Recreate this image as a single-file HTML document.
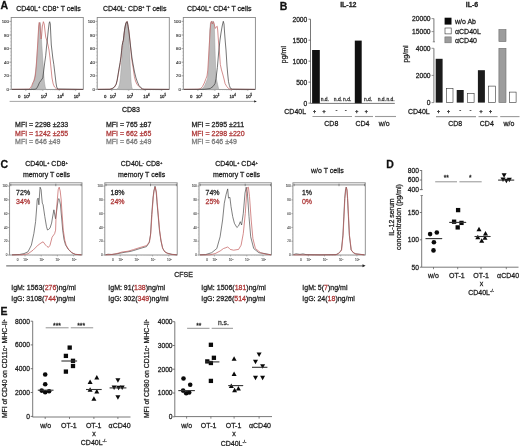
<!DOCTYPE html>
<html><head><meta charset="utf-8"><style>
html,body{margin:0;padding:0;background:#fff;}
body{width:520px;height:446px;overflow:hidden;}
svg{display:block;font-family:"Liberation Sans", sans-serif;filter:blur(0.3px);}
text{stroke:currentColor;stroke-width:0.26px;}
</style></head><body>
<svg width="520" height="446" viewBox="0 0 520 446">
<rect width="520" height="446" fill="#fff"/>
<text x="0.6" y="9.3" font-size="10.5" text-anchor="start" fill="#111" color="#111" font-weight="bold">A</text>
<text x="279.8" y="10.2" font-size="10.5" text-anchor="start" fill="#111" color="#111" font-weight="bold">B</text>
<text x="0.6" y="168" font-size="10.5" text-anchor="start" fill="#111" color="#111" font-weight="bold">C</text>
<text x="386.3" y="168.4" font-size="10.5" text-anchor="start" fill="#111" color="#111" font-weight="bold">D</text>
<text x="0.4" y="315.2" font-size="10.5" text-anchor="start" fill="#111" color="#111" font-weight="bold">E</text>
<text x="16.2" y="11.2" font-size="7" text-anchor="start" fill="#1c1c1c" color="#1c1c1c">CD40L<tspan font-size="4.2" dy="-2.8">+</tspan><tspan font-size="7" dy="2.8"> CD8<tspan font-size="4.2" dy="-2.8">+</tspan><tspan font-size="7" dy="2.8"> T cells</tspan></tspan></text>
<text x="102.9" y="11.2" font-size="7" text-anchor="start" fill="#1c1c1c" color="#1c1c1c">CD40L<tspan font-size="4.2" dy="-2.8">-</tspan><tspan font-size="7" dy="2.8"> CD8<tspan font-size="4.2" dy="-2.8">+</tspan><tspan font-size="7" dy="2.8"> T cells</tspan></tspan></text>
<text x="187" y="11.2" font-size="7" text-anchor="start" fill="#1c1c1c" color="#1c1c1c">CD40L<tspan font-size="4.2" dy="-2.8">+</tspan><tspan font-size="7" dy="2.8"> CD4<tspan font-size="4.2" dy="-2.8">+</tspan><tspan font-size="7" dy="2.8"> T cells</tspan></tspan></text>
<rect x="11.2" y="17.5" width="72.1" height="71.9" fill="white" stroke="#888" stroke-width="0.9"/>
<line x1="9.4" y1="21.4" x2="11.2" y2="21.4" stroke="#777" stroke-width="0.6"/>
<text x="8.8" y="22.95" font-size="4.3" text-anchor="end" fill="#2a2a2a" color="#2a2a2a" style="stroke-width:0.1px">100</text>
<line x1="9.4" y1="35" x2="11.2" y2="35" stroke="#777" stroke-width="0.6"/>
<text x="8.8" y="36.55" font-size="4.3" text-anchor="end" fill="#2a2a2a" color="#2a2a2a" style="stroke-width:0.1px">80</text>
<line x1="9.4" y1="48.6" x2="11.2" y2="48.6" stroke="#777" stroke-width="0.6"/>
<text x="8.8" y="50.15" font-size="4.3" text-anchor="end" fill="#2a2a2a" color="#2a2a2a" style="stroke-width:0.1px">60</text>
<line x1="9.4" y1="62.2" x2="11.2" y2="62.2" stroke="#777" stroke-width="0.6"/>
<text x="8.8" y="63.75" font-size="4.3" text-anchor="end" fill="#2a2a2a" color="#2a2a2a" style="stroke-width:0.1px">40</text>
<line x1="9.4" y1="75.8" x2="11.2" y2="75.8" stroke="#777" stroke-width="0.6"/>
<text x="8.8" y="77.35" font-size="4.3" text-anchor="end" fill="#2a2a2a" color="#2a2a2a" style="stroke-width:0.1px">20</text>
<line x1="9.4" y1="89.4" x2="11.2" y2="89.4" stroke="#777" stroke-width="0.6"/>
<text x="8.8" y="90.95" font-size="4.3" text-anchor="end" fill="#2a2a2a" color="#2a2a2a" style="stroke-width:0.1px">0</text>
<line x1="10.2" y1="21.4" x2="11.2" y2="21.4" stroke="#999" stroke-width="0.4"/>
<line x1="10.2" y1="24.8" x2="11.2" y2="24.8" stroke="#999" stroke-width="0.4"/>
<line x1="10.2" y1="28.2" x2="11.2" y2="28.2" stroke="#999" stroke-width="0.4"/>
<line x1="10.2" y1="31.6" x2="11.2" y2="31.6" stroke="#999" stroke-width="0.4"/>
<line x1="10.2" y1="35" x2="11.2" y2="35" stroke="#999" stroke-width="0.4"/>
<line x1="10.2" y1="38.4" x2="11.2" y2="38.4" stroke="#999" stroke-width="0.4"/>
<line x1="10.2" y1="41.8" x2="11.2" y2="41.8" stroke="#999" stroke-width="0.4"/>
<line x1="10.2" y1="45.2" x2="11.2" y2="45.2" stroke="#999" stroke-width="0.4"/>
<line x1="10.2" y1="48.6" x2="11.2" y2="48.6" stroke="#999" stroke-width="0.4"/>
<line x1="10.2" y1="52" x2="11.2" y2="52" stroke="#999" stroke-width="0.4"/>
<line x1="10.2" y1="55.4" x2="11.2" y2="55.4" stroke="#999" stroke-width="0.4"/>
<line x1="10.2" y1="58.8" x2="11.2" y2="58.8" stroke="#999" stroke-width="0.4"/>
<line x1="10.2" y1="62.2" x2="11.2" y2="62.2" stroke="#999" stroke-width="0.4"/>
<line x1="10.2" y1="65.6" x2="11.2" y2="65.6" stroke="#999" stroke-width="0.4"/>
<line x1="10.2" y1="69" x2="11.2" y2="69" stroke="#999" stroke-width="0.4"/>
<line x1="10.2" y1="72.4" x2="11.2" y2="72.4" stroke="#999" stroke-width="0.4"/>
<line x1="10.2" y1="75.8" x2="11.2" y2="75.8" stroke="#999" stroke-width="0.4"/>
<line x1="10.2" y1="79.2" x2="11.2" y2="79.2" stroke="#999" stroke-width="0.4"/>
<line x1="10.2" y1="82.6" x2="11.2" y2="82.6" stroke="#999" stroke-width="0.4"/>
<line x1="10.2" y1="86" x2="11.2" y2="86" stroke="#999" stroke-width="0.4"/>
<line x1="10.2" y1="89.4" x2="11.2" y2="89.4" stroke="#999" stroke-width="0.4"/>
<text x="19.1" y="97.6" font-size="4.3" text-anchor="middle" fill="#333" color="#333">0</text>
<text x="27" y="97.6" font-size="4.3" text-anchor="middle" fill="#333" color="#333">10<tspan font-size="2.79" dy="-1.94">2</tspan></text>
<line x1="25.8" y1="89.4" x2="25.8" y2="91" stroke="#777" stroke-width="0.5"/>
<text x="44" y="97.6" font-size="4.3" text-anchor="middle" fill="#333" color="#333">10<tspan font-size="2.79" dy="-1.94">3</tspan></text>
<line x1="42.8" y1="89.4" x2="42.8" y2="91" stroke="#777" stroke-width="0.5"/>
<text x="60.5" y="97.6" font-size="4.3" text-anchor="middle" fill="#333" color="#333">10<tspan font-size="2.79" dy="-1.94">4</tspan></text>
<line x1="59.3" y1="89.4" x2="59.3" y2="91" stroke="#777" stroke-width="0.5"/>
<text x="76.9" y="97.6" font-size="4.3" text-anchor="middle" fill="#333" color="#333">10<tspan font-size="2.79" dy="-1.94">5</tspan></text>
<line x1="75.7" y1="89.4" x2="75.7" y2="91" stroke="#777" stroke-width="0.5"/>
<line x1="30.92" y1="89.4" x2="30.92" y2="90.3" stroke="#999" stroke-width="0.4"/>
<line x1="33.91" y1="89.4" x2="33.91" y2="90.3" stroke="#999" stroke-width="0.4"/>
<line x1="36.04" y1="89.4" x2="36.04" y2="90.3" stroke="#999" stroke-width="0.4"/>
<line x1="37.68" y1="89.4" x2="37.68" y2="90.3" stroke="#999" stroke-width="0.4"/>
<line x1="39.03" y1="89.4" x2="39.03" y2="90.3" stroke="#999" stroke-width="0.4"/>
<line x1="40.17" y1="89.4" x2="40.17" y2="90.3" stroke="#999" stroke-width="0.4"/>
<line x1="41.15" y1="89.4" x2="41.15" y2="90.3" stroke="#999" stroke-width="0.4"/>
<line x1="42.02" y1="89.4" x2="42.02" y2="90.3" stroke="#999" stroke-width="0.4"/>
<line x1="47.77" y1="89.4" x2="47.77" y2="90.3" stroke="#999" stroke-width="0.4"/>
<line x1="50.67" y1="89.4" x2="50.67" y2="90.3" stroke="#999" stroke-width="0.4"/>
<line x1="52.73" y1="89.4" x2="52.73" y2="90.3" stroke="#999" stroke-width="0.4"/>
<line x1="54.33" y1="89.4" x2="54.33" y2="90.3" stroke="#999" stroke-width="0.4"/>
<line x1="55.64" y1="89.4" x2="55.64" y2="90.3" stroke="#999" stroke-width="0.4"/>
<line x1="56.74" y1="89.4" x2="56.74" y2="90.3" stroke="#999" stroke-width="0.4"/>
<line x1="57.7" y1="89.4" x2="57.7" y2="90.3" stroke="#999" stroke-width="0.4"/>
<line x1="58.55" y1="89.4" x2="58.55" y2="90.3" stroke="#999" stroke-width="0.4"/>
<line x1="64.24" y1="89.4" x2="64.24" y2="90.3" stroke="#999" stroke-width="0.4"/>
<line x1="67.12" y1="89.4" x2="67.12" y2="90.3" stroke="#999" stroke-width="0.4"/>
<line x1="69.17" y1="89.4" x2="69.17" y2="90.3" stroke="#999" stroke-width="0.4"/>
<line x1="70.76" y1="89.4" x2="70.76" y2="90.3" stroke="#999" stroke-width="0.4"/>
<line x1="72.06" y1="89.4" x2="72.06" y2="90.3" stroke="#999" stroke-width="0.4"/>
<line x1="73.16" y1="89.4" x2="73.16" y2="90.3" stroke="#999" stroke-width="0.4"/>
<line x1="74.11" y1="89.4" x2="74.11" y2="90.3" stroke="#999" stroke-width="0.4"/>
<line x1="74.95" y1="89.4" x2="74.95" y2="90.3" stroke="#999" stroke-width="0.4"/>
<rect x="97.2" y="17.5" width="72.1" height="71.9" fill="white" stroke="#888" stroke-width="0.9"/>
<line x1="95.4" y1="21.4" x2="97.2" y2="21.4" stroke="#777" stroke-width="0.6"/>
<text x="94.8" y="22.95" font-size="4.3" text-anchor="end" fill="#2a2a2a" color="#2a2a2a" style="stroke-width:0.1px">100</text>
<line x1="95.4" y1="35" x2="97.2" y2="35" stroke="#777" stroke-width="0.6"/>
<text x="94.8" y="36.55" font-size="4.3" text-anchor="end" fill="#2a2a2a" color="#2a2a2a" style="stroke-width:0.1px">80</text>
<line x1="95.4" y1="48.6" x2="97.2" y2="48.6" stroke="#777" stroke-width="0.6"/>
<text x="94.8" y="50.15" font-size="4.3" text-anchor="end" fill="#2a2a2a" color="#2a2a2a" style="stroke-width:0.1px">60</text>
<line x1="95.4" y1="62.2" x2="97.2" y2="62.2" stroke="#777" stroke-width="0.6"/>
<text x="94.8" y="63.75" font-size="4.3" text-anchor="end" fill="#2a2a2a" color="#2a2a2a" style="stroke-width:0.1px">40</text>
<line x1="95.4" y1="75.8" x2="97.2" y2="75.8" stroke="#777" stroke-width="0.6"/>
<text x="94.8" y="77.35" font-size="4.3" text-anchor="end" fill="#2a2a2a" color="#2a2a2a" style="stroke-width:0.1px">20</text>
<line x1="95.4" y1="89.4" x2="97.2" y2="89.4" stroke="#777" stroke-width="0.6"/>
<text x="94.8" y="90.95" font-size="4.3" text-anchor="end" fill="#2a2a2a" color="#2a2a2a" style="stroke-width:0.1px">0</text>
<line x1="96.2" y1="21.4" x2="97.2" y2="21.4" stroke="#999" stroke-width="0.4"/>
<line x1="96.2" y1="24.8" x2="97.2" y2="24.8" stroke="#999" stroke-width="0.4"/>
<line x1="96.2" y1="28.2" x2="97.2" y2="28.2" stroke="#999" stroke-width="0.4"/>
<line x1="96.2" y1="31.6" x2="97.2" y2="31.6" stroke="#999" stroke-width="0.4"/>
<line x1="96.2" y1="35" x2="97.2" y2="35" stroke="#999" stroke-width="0.4"/>
<line x1="96.2" y1="38.4" x2="97.2" y2="38.4" stroke="#999" stroke-width="0.4"/>
<line x1="96.2" y1="41.8" x2="97.2" y2="41.8" stroke="#999" stroke-width="0.4"/>
<line x1="96.2" y1="45.2" x2="97.2" y2="45.2" stroke="#999" stroke-width="0.4"/>
<line x1="96.2" y1="48.6" x2="97.2" y2="48.6" stroke="#999" stroke-width="0.4"/>
<line x1="96.2" y1="52" x2="97.2" y2="52" stroke="#999" stroke-width="0.4"/>
<line x1="96.2" y1="55.4" x2="97.2" y2="55.4" stroke="#999" stroke-width="0.4"/>
<line x1="96.2" y1="58.8" x2="97.2" y2="58.8" stroke="#999" stroke-width="0.4"/>
<line x1="96.2" y1="62.2" x2="97.2" y2="62.2" stroke="#999" stroke-width="0.4"/>
<line x1="96.2" y1="65.6" x2="97.2" y2="65.6" stroke="#999" stroke-width="0.4"/>
<line x1="96.2" y1="69" x2="97.2" y2="69" stroke="#999" stroke-width="0.4"/>
<line x1="96.2" y1="72.4" x2="97.2" y2="72.4" stroke="#999" stroke-width="0.4"/>
<line x1="96.2" y1="75.8" x2="97.2" y2="75.8" stroke="#999" stroke-width="0.4"/>
<line x1="96.2" y1="79.2" x2="97.2" y2="79.2" stroke="#999" stroke-width="0.4"/>
<line x1="96.2" y1="82.6" x2="97.2" y2="82.6" stroke="#999" stroke-width="0.4"/>
<line x1="96.2" y1="86" x2="97.2" y2="86" stroke="#999" stroke-width="0.4"/>
<line x1="96.2" y1="89.4" x2="97.2" y2="89.4" stroke="#999" stroke-width="0.4"/>
<text x="105.1" y="97.6" font-size="4.3" text-anchor="middle" fill="#333" color="#333">0</text>
<text x="113" y="97.6" font-size="4.3" text-anchor="middle" fill="#333" color="#333">10<tspan font-size="2.79" dy="-1.94">2</tspan></text>
<line x1="111.8" y1="89.4" x2="111.8" y2="91" stroke="#777" stroke-width="0.5"/>
<text x="130" y="97.6" font-size="4.3" text-anchor="middle" fill="#333" color="#333">10<tspan font-size="2.79" dy="-1.94">3</tspan></text>
<line x1="128.8" y1="89.4" x2="128.8" y2="91" stroke="#777" stroke-width="0.5"/>
<text x="146.5" y="97.6" font-size="4.3" text-anchor="middle" fill="#333" color="#333">10<tspan font-size="2.79" dy="-1.94">4</tspan></text>
<line x1="145.3" y1="89.4" x2="145.3" y2="91" stroke="#777" stroke-width="0.5"/>
<text x="162.9" y="97.6" font-size="4.3" text-anchor="middle" fill="#333" color="#333">10<tspan font-size="2.79" dy="-1.94">5</tspan></text>
<line x1="161.7" y1="89.4" x2="161.7" y2="91" stroke="#777" stroke-width="0.5"/>
<line x1="116.92" y1="89.4" x2="116.92" y2="90.3" stroke="#999" stroke-width="0.4"/>
<line x1="119.91" y1="89.4" x2="119.91" y2="90.3" stroke="#999" stroke-width="0.4"/>
<line x1="122.04" y1="89.4" x2="122.04" y2="90.3" stroke="#999" stroke-width="0.4"/>
<line x1="123.68" y1="89.4" x2="123.68" y2="90.3" stroke="#999" stroke-width="0.4"/>
<line x1="125.03" y1="89.4" x2="125.03" y2="90.3" stroke="#999" stroke-width="0.4"/>
<line x1="126.17" y1="89.4" x2="126.17" y2="90.3" stroke="#999" stroke-width="0.4"/>
<line x1="127.15" y1="89.4" x2="127.15" y2="90.3" stroke="#999" stroke-width="0.4"/>
<line x1="128.02" y1="89.4" x2="128.02" y2="90.3" stroke="#999" stroke-width="0.4"/>
<line x1="133.77" y1="89.4" x2="133.77" y2="90.3" stroke="#999" stroke-width="0.4"/>
<line x1="136.67" y1="89.4" x2="136.67" y2="90.3" stroke="#999" stroke-width="0.4"/>
<line x1="138.73" y1="89.4" x2="138.73" y2="90.3" stroke="#999" stroke-width="0.4"/>
<line x1="140.33" y1="89.4" x2="140.33" y2="90.3" stroke="#999" stroke-width="0.4"/>
<line x1="141.64" y1="89.4" x2="141.64" y2="90.3" stroke="#999" stroke-width="0.4"/>
<line x1="142.74" y1="89.4" x2="142.74" y2="90.3" stroke="#999" stroke-width="0.4"/>
<line x1="143.7" y1="89.4" x2="143.7" y2="90.3" stroke="#999" stroke-width="0.4"/>
<line x1="144.55" y1="89.4" x2="144.55" y2="90.3" stroke="#999" stroke-width="0.4"/>
<line x1="150.24" y1="89.4" x2="150.24" y2="90.3" stroke="#999" stroke-width="0.4"/>
<line x1="153.12" y1="89.4" x2="153.12" y2="90.3" stroke="#999" stroke-width="0.4"/>
<line x1="155.17" y1="89.4" x2="155.17" y2="90.3" stroke="#999" stroke-width="0.4"/>
<line x1="156.76" y1="89.4" x2="156.76" y2="90.3" stroke="#999" stroke-width="0.4"/>
<line x1="158.06" y1="89.4" x2="158.06" y2="90.3" stroke="#999" stroke-width="0.4"/>
<line x1="159.16" y1="89.4" x2="159.16" y2="90.3" stroke="#999" stroke-width="0.4"/>
<line x1="160.11" y1="89.4" x2="160.11" y2="90.3" stroke="#999" stroke-width="0.4"/>
<line x1="160.95" y1="89.4" x2="160.95" y2="90.3" stroke="#999" stroke-width="0.4"/>
<rect x="183.3" y="17.5" width="72.1" height="71.9" fill="white" stroke="#888" stroke-width="0.9"/>
<line x1="181.5" y1="21.4" x2="183.3" y2="21.4" stroke="#777" stroke-width="0.6"/>
<text x="180.9" y="22.95" font-size="4.3" text-anchor="end" fill="#2a2a2a" color="#2a2a2a" style="stroke-width:0.1px">100</text>
<line x1="181.5" y1="35" x2="183.3" y2="35" stroke="#777" stroke-width="0.6"/>
<text x="180.9" y="36.55" font-size="4.3" text-anchor="end" fill="#2a2a2a" color="#2a2a2a" style="stroke-width:0.1px">80</text>
<line x1="181.5" y1="48.6" x2="183.3" y2="48.6" stroke="#777" stroke-width="0.6"/>
<text x="180.9" y="50.15" font-size="4.3" text-anchor="end" fill="#2a2a2a" color="#2a2a2a" style="stroke-width:0.1px">60</text>
<line x1="181.5" y1="62.2" x2="183.3" y2="62.2" stroke="#777" stroke-width="0.6"/>
<text x="180.9" y="63.75" font-size="4.3" text-anchor="end" fill="#2a2a2a" color="#2a2a2a" style="stroke-width:0.1px">40</text>
<line x1="181.5" y1="75.8" x2="183.3" y2="75.8" stroke="#777" stroke-width="0.6"/>
<text x="180.9" y="77.35" font-size="4.3" text-anchor="end" fill="#2a2a2a" color="#2a2a2a" style="stroke-width:0.1px">20</text>
<line x1="181.5" y1="89.4" x2="183.3" y2="89.4" stroke="#777" stroke-width="0.6"/>
<text x="180.9" y="90.95" font-size="4.3" text-anchor="end" fill="#2a2a2a" color="#2a2a2a" style="stroke-width:0.1px">0</text>
<line x1="182.3" y1="21.4" x2="183.3" y2="21.4" stroke="#999" stroke-width="0.4"/>
<line x1="182.3" y1="24.8" x2="183.3" y2="24.8" stroke="#999" stroke-width="0.4"/>
<line x1="182.3" y1="28.2" x2="183.3" y2="28.2" stroke="#999" stroke-width="0.4"/>
<line x1="182.3" y1="31.6" x2="183.3" y2="31.6" stroke="#999" stroke-width="0.4"/>
<line x1="182.3" y1="35" x2="183.3" y2="35" stroke="#999" stroke-width="0.4"/>
<line x1="182.3" y1="38.4" x2="183.3" y2="38.4" stroke="#999" stroke-width="0.4"/>
<line x1="182.3" y1="41.8" x2="183.3" y2="41.8" stroke="#999" stroke-width="0.4"/>
<line x1="182.3" y1="45.2" x2="183.3" y2="45.2" stroke="#999" stroke-width="0.4"/>
<line x1="182.3" y1="48.6" x2="183.3" y2="48.6" stroke="#999" stroke-width="0.4"/>
<line x1="182.3" y1="52" x2="183.3" y2="52" stroke="#999" stroke-width="0.4"/>
<line x1="182.3" y1="55.4" x2="183.3" y2="55.4" stroke="#999" stroke-width="0.4"/>
<line x1="182.3" y1="58.8" x2="183.3" y2="58.8" stroke="#999" stroke-width="0.4"/>
<line x1="182.3" y1="62.2" x2="183.3" y2="62.2" stroke="#999" stroke-width="0.4"/>
<line x1="182.3" y1="65.6" x2="183.3" y2="65.6" stroke="#999" stroke-width="0.4"/>
<line x1="182.3" y1="69" x2="183.3" y2="69" stroke="#999" stroke-width="0.4"/>
<line x1="182.3" y1="72.4" x2="183.3" y2="72.4" stroke="#999" stroke-width="0.4"/>
<line x1="182.3" y1="75.8" x2="183.3" y2="75.8" stroke="#999" stroke-width="0.4"/>
<line x1="182.3" y1="79.2" x2="183.3" y2="79.2" stroke="#999" stroke-width="0.4"/>
<line x1="182.3" y1="82.6" x2="183.3" y2="82.6" stroke="#999" stroke-width="0.4"/>
<line x1="182.3" y1="86" x2="183.3" y2="86" stroke="#999" stroke-width="0.4"/>
<line x1="182.3" y1="89.4" x2="183.3" y2="89.4" stroke="#999" stroke-width="0.4"/>
<text x="191.2" y="97.6" font-size="4.3" text-anchor="middle" fill="#333" color="#333">0</text>
<text x="199.1" y="97.6" font-size="4.3" text-anchor="middle" fill="#333" color="#333">10<tspan font-size="2.79" dy="-1.94">2</tspan></text>
<line x1="197.9" y1="89.4" x2="197.9" y2="91" stroke="#777" stroke-width="0.5"/>
<text x="216.1" y="97.6" font-size="4.3" text-anchor="middle" fill="#333" color="#333">10<tspan font-size="2.79" dy="-1.94">3</tspan></text>
<line x1="214.9" y1="89.4" x2="214.9" y2="91" stroke="#777" stroke-width="0.5"/>
<text x="232.6" y="97.6" font-size="4.3" text-anchor="middle" fill="#333" color="#333">10<tspan font-size="2.79" dy="-1.94">4</tspan></text>
<line x1="231.4" y1="89.4" x2="231.4" y2="91" stroke="#777" stroke-width="0.5"/>
<text x="249" y="97.6" font-size="4.3" text-anchor="middle" fill="#333" color="#333">10<tspan font-size="2.79" dy="-1.94">5</tspan></text>
<line x1="247.8" y1="89.4" x2="247.8" y2="91" stroke="#777" stroke-width="0.5"/>
<line x1="203.02" y1="89.4" x2="203.02" y2="90.3" stroke="#999" stroke-width="0.4"/>
<line x1="206.01" y1="89.4" x2="206.01" y2="90.3" stroke="#999" stroke-width="0.4"/>
<line x1="208.14" y1="89.4" x2="208.14" y2="90.3" stroke="#999" stroke-width="0.4"/>
<line x1="209.78" y1="89.4" x2="209.78" y2="90.3" stroke="#999" stroke-width="0.4"/>
<line x1="211.13" y1="89.4" x2="211.13" y2="90.3" stroke="#999" stroke-width="0.4"/>
<line x1="212.27" y1="89.4" x2="212.27" y2="90.3" stroke="#999" stroke-width="0.4"/>
<line x1="213.25" y1="89.4" x2="213.25" y2="90.3" stroke="#999" stroke-width="0.4"/>
<line x1="214.12" y1="89.4" x2="214.12" y2="90.3" stroke="#999" stroke-width="0.4"/>
<line x1="219.87" y1="89.4" x2="219.87" y2="90.3" stroke="#999" stroke-width="0.4"/>
<line x1="222.77" y1="89.4" x2="222.77" y2="90.3" stroke="#999" stroke-width="0.4"/>
<line x1="224.83" y1="89.4" x2="224.83" y2="90.3" stroke="#999" stroke-width="0.4"/>
<line x1="226.43" y1="89.4" x2="226.43" y2="90.3" stroke="#999" stroke-width="0.4"/>
<line x1="227.74" y1="89.4" x2="227.74" y2="90.3" stroke="#999" stroke-width="0.4"/>
<line x1="228.84" y1="89.4" x2="228.84" y2="90.3" stroke="#999" stroke-width="0.4"/>
<line x1="229.8" y1="89.4" x2="229.8" y2="90.3" stroke="#999" stroke-width="0.4"/>
<line x1="230.65" y1="89.4" x2="230.65" y2="90.3" stroke="#999" stroke-width="0.4"/>
<line x1="236.34" y1="89.4" x2="236.34" y2="90.3" stroke="#999" stroke-width="0.4"/>
<line x1="239.22" y1="89.4" x2="239.22" y2="90.3" stroke="#999" stroke-width="0.4"/>
<line x1="241.27" y1="89.4" x2="241.27" y2="90.3" stroke="#999" stroke-width="0.4"/>
<line x1="242.86" y1="89.4" x2="242.86" y2="90.3" stroke="#999" stroke-width="0.4"/>
<line x1="244.16" y1="89.4" x2="244.16" y2="90.3" stroke="#999" stroke-width="0.4"/>
<line x1="245.26" y1="89.4" x2="245.26" y2="90.3" stroke="#999" stroke-width="0.4"/>
<line x1="246.21" y1="89.4" x2="246.21" y2="90.3" stroke="#999" stroke-width="0.4"/>
<line x1="247.05" y1="89.4" x2="247.05" y2="90.3" stroke="#999" stroke-width="0.4"/>
<path d="M30.8,89.4 L32,86.5 L33.2,82.5 L34.5,78 L35.5,72 L36.3,64 L37,55 L37.8,45 L38.4,35 L38.8,27 L39.3,22.6 L40.3,22.6 L40.8,27 L41.3,35 L41.8,45 L42.5,55 L43.2,65 L43.8,75 L44.4,82 L45.2,87 L46,89.4 Z" fill="#bdbdbd" stroke="#9a9a9a" stroke-width="0.5" stroke-linejoin="round"/>
<path d="M12,89.3 L29,89.2 L30.5,88 L31.8,85.5 L33,82.5 L34.1,80.8 L35.3,76 L36.3,66 L37.2,52 L38,38 L38.7,26 L39.2,22.5 L39.8,24 L40.5,32 L41.1,39 L41.6,36 L42.4,26 L43.4,21.7 L44.2,24 L45,31 L45.7,37 L47,41 L48,45 L49,50 L50,58 L50.8,66 L52,78 L53.2,84 L54.5,87 L56.7,89 L58,89.3 L83,89.4" fill="none" stroke="#c46a6a" stroke-width="0.75" stroke-linejoin="round"/>
<path d="M12,89.4 L35,89.3 L36.5,88.6 L38,86 L39.4,82.7 L41,80.5 L42.8,77.9 L43.8,70 L44.8,62 L45.7,55.8 L46.5,47 L47.3,40 L48.3,30 L49.2,23 L49.7,21.7 L50.3,24 L50.8,35 L51.3,45 L51.9,50 L52.8,58 L53.8,64.4 L54.6,71 L55.3,77 L56,83 L56.7,87 L57.7,89 L83,89.4" fill="none" stroke="#3a3a3a" stroke-width="0.7" stroke-linejoin="round"/>
<path d="M116.5,89.4 L118.5,87.5 L119.6,84 L120.4,78 L121,70 L121.6,62 L122.2,54 L122.8,46 L123.4,40 L124.1,34 L124.8,28 L125.6,24 L126.6,22.2 L127.4,23 L128,27 L128.5,33 L129,40 L129.4,48 L129.8,56 L130.2,65 L130.6,74 L131.1,82 L131.7,87 L132.5,89.4 Z" fill="#bdbdbd" stroke="#9a9a9a" stroke-width="0.5" stroke-linejoin="round"/>
<path d="M98,89.3 L110,89.2 L112.3,88.5 L114.5,87 L116.3,84 L117.3,80 L118.3,74 L119.3,68 L120.3,62.4 L121.2,56 L121.8,50 L122.3,45.3 L122.8,42 L123.5,40 L124,35 L124.6,30 L125.3,26 L126,23 L126.7,21.7 L127.3,21.5 L127.8,24 L128.4,28 L128.9,31 L129.4,35 L129.9,40 L130.4,45.3 L131,52 L131.6,58 L132.3,63 L133.2,68 L134.4,76.5 L135.5,81 L137,84.5 L139.6,86.8 L141,88.3 L142.5,89.2 L169,89.4" fill="none" stroke="#c46a6a" stroke-width="0.75" stroke-linejoin="round"/>
<path d="M98,89.4 L110,89.3 L112.1,88.6 L114.3,87.2 L116.1,84.3 L117.1,80.3 L118.1,74.3 L119.1,68.3 L120.1,62.6 L121,56.2 L121.6,50.2 L122.1,45.5 L122.7,42.5 L123.3,40.5 L123.9,35.2 L124.5,30.2 L125.2,26.2 L125.9,23.2 L126.6,21.9 L127.2,21.6 L127.7,24.2 L128.2,26.7 L128.7,30 L129.2,34 L129.7,39 L130.3,44 L131,50 L132,58 L133.2,65 L134.5,72 L136,78 L137.4,82 L139,85.5 L140.5,87.3 L142.5,88.8 L144,89.3 L169,89.4" fill="none" stroke="#3a3a3a" stroke-width="0.7" stroke-linejoin="round"/>
<path d="M200,89.4 L202.5,88.5 L204.5,86 L206,82.5 L207.5,78.8 L208.3,70 L208.8,60 L209.2,50 L209.5,40 L209.8,30 L210.5,23 L211.4,21.4 L213.4,21.4 L214.3,25 L214.6,35 L214.9,45 L215.2,55 L215.8,70 L216.4,78.8 L217.5,84 L218.8,89.4 Z" fill="#bdbdbd" stroke="#9a9a9a" stroke-width="0.5" stroke-linejoin="round"/>
<path d="M184,89.3 L198,89.2 L200.6,88.6 L202.5,86.5 L204.3,83 L205.9,78.8 L207,76 L207.8,70 L208.4,60 L209,50 L209.6,40 L210.2,30 L210.8,23 L211.4,21.3 L212.3,24 L213.4,21.7 L214.2,24 L215.2,28.5 L216.2,27 L217.2,26.2 L217.7,30 L218.1,36 L218.6,43 L219.3,50 L220.3,64.4 L221.5,70 L222.7,74 L224,79 L225.1,83.7 L226.8,86.5 L228.5,88.5 L230,89.2 L255,89.4" fill="none" stroke="#c46a6a" stroke-width="0.75" stroke-linejoin="round"/>
<path d="M184,89.4 L204,89.3 L207,89 L210.2,88.5 L213,86.5 L215,83.7 L216,78.8 L216.7,73 L217.4,67.3 L218,60 L218.6,53 L219.2,47 L220,40 L221,33 L222.2,26 L223.3,21.3 L224,24 L224.6,33 L225.3,42 L226,50 L226.5,58 L227,66 L227.7,74 L228.5,81.7 L229.4,85.5 L230.4,88.3 L232.3,89.2 L255,89.4" fill="none" stroke="#3a3a3a" stroke-width="0.7" stroke-linejoin="round"/>
<line x1="9.6" y1="101.4" x2="255" y2="101.4" stroke="#8e8e8e" stroke-width="0.8"/>
<path d="M254.2,100.2 L256.8,101.4 L254.2,102.6 Z" fill="#222"/>
<text x="122" y="112.4" font-size="7" text-anchor="start" fill="#1c1c1c" color="#1c1c1c">CD83</text>
<text x="15.1" y="126.9" font-size="7" text-anchor="start" fill="#1c1c1c" color="#1c1c1c">MFI = 2298 ±233</text>
<text x="15.1" y="135.55" font-size="7" text-anchor="start" fill="#ad3636" color="#ad3636">MFI = 1242 ±255</text>
<text x="15.1" y="144.2" font-size="7" text-anchor="start" fill="#7a7a7a" color="#7a7a7a">MFI = 646 ±49</text>
<text x="106" y="126.9" font-size="7" text-anchor="start" fill="#1c1c1c" color="#1c1c1c">MFI = 765 ±87</text>
<text x="106" y="135.55" font-size="7" text-anchor="start" fill="#ad3636" color="#ad3636">MFI = 662 ±65</text>
<text x="106" y="144.2" font-size="7" text-anchor="start" fill="#7a7a7a" color="#7a7a7a">MFI = 646 ±49</text>
<text x="191.5" y="126.9" font-size="7" text-anchor="start" fill="#1c1c1c" color="#1c1c1c">MFI = 2595 ±211</text>
<text x="191.5" y="135.55" font-size="7" text-anchor="start" fill="#ad3636" color="#ad3636">MFI = 2298 ±220</text>
<text x="191.5" y="144.2" font-size="7" text-anchor="start" fill="#7a7a7a" color="#7a7a7a">MFI = 646 ±49</text>
<text x="348.3" y="6.9" font-size="7" text-anchor="middle" fill="#222" color="#222" font-weight="bold">IL-12</text>
<line x1="310.5" y1="19.2" x2="310.5" y2="103.4" stroke="#555" stroke-width="0.8"/>
<line x1="308.5" y1="19.2" x2="310.5" y2="19.2" stroke="#555" stroke-width="0.8"/>
<text x="307.3" y="21.65" font-size="6.7" text-anchor="end" fill="#222" color="#222">2000</text>
<line x1="308.5" y1="40.17" x2="310.5" y2="40.17" stroke="#555" stroke-width="0.8"/>
<text x="307.3" y="42.62" font-size="6.7" text-anchor="end" fill="#222" color="#222">1500</text>
<line x1="308.5" y1="61.15" x2="310.5" y2="61.15" stroke="#555" stroke-width="0.8"/>
<text x="307.3" y="63.6" font-size="6.7" text-anchor="end" fill="#222" color="#222">1000</text>
<line x1="308.5" y1="82.12" x2="310.5" y2="82.12" stroke="#555" stroke-width="0.8"/>
<text x="307.3" y="84.58" font-size="6.7" text-anchor="end" fill="#222" color="#222">500</text>
<line x1="308.5" y1="103.1" x2="310.5" y2="103.1" stroke="#555" stroke-width="0.8"/>
<text x="307.3" y="105.55" font-size="6.7" text-anchor="end" fill="#222" color="#222">0</text>
<text x="0" y="0" font-size="7" text-anchor="middle" fill="#1c1c1c" color="#1c1c1c" transform="translate(285.5,54.6) rotate(-90)">pg/ml</text>
<rect x="312.1" y="50" width="7.7" height="53.4" fill="#111"/>
<rect x="354.8" y="40.6" width="6.9" height="62.8" fill="#111"/>
<line x1="310.5" y1="103.4" x2="394.8" y2="103.4" stroke="#555" stroke-width="0.8"/>
<text x="324.8" y="100.8" font-size="4.9" text-anchor="middle" fill="#333" color="#333">n.d.</text>
<text x="337.9" y="100.8" font-size="4.9" text-anchor="middle" fill="#333" color="#333">n.d.</text>
<text x="347.2" y="100.8" font-size="4.9" text-anchor="middle" fill="#333" color="#333">n.d.</text>
<text x="368" y="100.8" font-size="4.9" text-anchor="middle" fill="#333" color="#333">n.d.</text>
<text x="381.8" y="100.8" font-size="4.9" text-anchor="middle" fill="#333" color="#333">n.d.</text>
<text x="390.5" y="100.8" font-size="4.9" text-anchor="middle" fill="#333" color="#333">n.d.</text>
<text x="284.3" y="114.4" font-size="7" text-anchor="start" fill="#1c1c1c" color="#1c1c1c">CD40L</text>
<text x="314.4" y="112.9" font-size="5.2" text-anchor="middle" fill="#222" color="#222" font-weight="bold">+</text>
<text x="324" y="112.9" font-size="5.2" text-anchor="middle" fill="#222" color="#222" font-weight="bold">+</text>
<text x="336.5" y="112.4" font-size="6" text-anchor="middle" fill="#222" color="#222">-</text>
<text x="345.8" y="112.4" font-size="6" text-anchor="middle" fill="#222" color="#222">-</text>
<text x="356.7" y="112.9" font-size="5.2" text-anchor="middle" fill="#222" color="#222" font-weight="bold">+</text>
<text x="366.3" y="112.9" font-size="5.2" text-anchor="middle" fill="#222" color="#222" font-weight="bold">+</text>
<line x1="312.5" y1="116.5" x2="352" y2="116.5" stroke="#9a9a9a" stroke-width="1.1"/>
<line x1="354.8" y1="116.5" x2="373" y2="116.5" stroke="#9a9a9a" stroke-width="1.1"/>
<line x1="375" y1="116.5" x2="396" y2="116.5" stroke="#9a9a9a" stroke-width="1.1"/>
<text x="331.3" y="125.6" font-size="7" text-anchor="middle" fill="#1c1c1c" color="#1c1c1c">CD8</text>
<text x="362.5" y="125.6" font-size="7" text-anchor="middle" fill="#1c1c1c" color="#1c1c1c">CD4</text>
<text x="384.1" y="125.6" font-size="7" text-anchor="middle" fill="#1c1c1c" color="#1c1c1c">w/o</text>
<text x="472" y="6.9" font-size="7" text-anchor="middle" fill="#222" color="#222" font-weight="bold">IL-6</text>
<line x1="433.9" y1="18.5" x2="433.9" y2="41.8" stroke="#777" stroke-width="1.0"/>
<line x1="432.8" y1="41.8" x2="435" y2="41.8" stroke="#777" stroke-width="0.9"/>
<line x1="433.9" y1="48.3" x2="433.9" y2="102.6" stroke="#777" stroke-width="1.0"/>
<line x1="431.6" y1="18.6" x2="433.9" y2="18.6" stroke="#777" stroke-width="0.8"/>
<text x="430.6" y="21.05" font-size="6.7" text-anchor="end" fill="#222" color="#222">20000</text>
<line x1="431.6" y1="31.6" x2="433.9" y2="31.6" stroke="#777" stroke-width="0.8"/>
<text x="430.6" y="34.05" font-size="6.7" text-anchor="end" fill="#222" color="#222">15000</text>
<line x1="431.6" y1="48.3" x2="433.9" y2="48.3" stroke="#777" stroke-width="0.8"/>
<text x="430.6" y="50.75" font-size="6.7" text-anchor="end" fill="#222" color="#222">4000</text>
<line x1="431.6" y1="75.4" x2="433.9" y2="75.4" stroke="#777" stroke-width="0.8"/>
<text x="430.6" y="77.85" font-size="6.7" text-anchor="end" fill="#222" color="#222">2000</text>
<line x1="431.6" y1="102.6" x2="433.9" y2="102.6" stroke="#777" stroke-width="0.8"/>
<text x="430.6" y="105.05" font-size="6.7" text-anchor="end" fill="#222" color="#222">0</text>
<text x="0" y="0" font-size="7" text-anchor="middle" fill="#1c1c1c" color="#1c1c1c" transform="translate(408.2,54.0) rotate(-90)">pg/ml</text>
<rect x="444.6" y="17.7" width="6.9" height="6.9" fill="#0a0a0a"/>
<rect x="445" y="28" width="6.2" height="5.9" fill="white" stroke="#333" stroke-width="0.6"/>
<rect x="444.9" y="36.9" width="6.3" height="5.9" fill="#9c9c9c" stroke="#6e6e6e" stroke-width="0.6"/>
<text x="455" y="23.7" font-size="7" text-anchor="start" fill="#1c1c1c" color="#1c1c1c">w/o Ab</text>
<text x="455" y="33.9" font-size="7" text-anchor="start" fill="#1c1c1c" color="#1c1c1c">αCD40L</text>
<text x="455" y="42.7" font-size="7" text-anchor="start" fill="#1c1c1c" color="#1c1c1c">αCD40</text>
<rect x="435.7" y="58.8" width="6.9" height="43.8" fill="#1c1c1c"/>
<rect x="446.5" y="88.3" width="6.5" height="14.3" fill="white" stroke="#333" stroke-width="0.6"/>
<rect x="456.7" y="90" width="7" height="12.6" fill="#1c1c1c"/>
<rect x="467.3" y="93.5" width="6.8" height="9.1" fill="white" stroke="#333" stroke-width="0.6"/>
<rect x="477.9" y="70.2" width="7" height="32.4" fill="#1c1c1c"/>
<rect x="488.4" y="86.1" width="6.9" height="16.5" fill="white" stroke="#333" stroke-width="0.6"/>
<rect x="509.4" y="92.1" width="6.7" height="10.5" fill="white" stroke="#333" stroke-width="0.6"/>
<rect x="498.9" y="29.5" width="7.1" height="12.1" fill="#9c9c9c" stroke="#6e6e6e" stroke-width="0.6"/>
<rect x="498.9" y="48.3" width="7.1" height="54.3" fill="#9c9c9c" stroke="#6e6e6e" stroke-width="0.6"/>
<text x="418.8" y="114.4" font-size="7" text-anchor="middle" fill="#1c1c1c" color="#1c1c1c">CD40L</text>
<text x="438.5" y="112.9" font-size="5.2" text-anchor="middle" fill="#222" color="#222" font-weight="bold">+</text>
<text x="448.6" y="112.9" font-size="5.2" text-anchor="middle" fill="#222" color="#222" font-weight="bold">+</text>
<text x="460.3" y="112.4" font-size="6" text-anchor="middle" fill="#222" color="#222">-</text>
<text x="470.4" y="112.4" font-size="6" text-anchor="middle" fill="#222" color="#222">-</text>
<text x="480.9" y="112.9" font-size="5.2" text-anchor="middle" fill="#222" color="#222" font-weight="bold">+</text>
<text x="490.6" y="112.9" font-size="5.2" text-anchor="middle" fill="#222" color="#222" font-weight="bold">+</text>
<line x1="436" y1="116.6" x2="476" y2="116.6" stroke="#9a9a9a" stroke-width="1.1"/>
<line x1="478.5" y1="116.6" x2="497.6" y2="116.6" stroke="#9a9a9a" stroke-width="1.1"/>
<line x1="500.2" y1="116.6" x2="519.5" y2="116.6" stroke="#9a9a9a" stroke-width="1.1"/>
<text x="455.2" y="125.7" font-size="7" text-anchor="middle" fill="#1c1c1c" color="#1c1c1c">CD8</text>
<text x="486.8" y="125.7" font-size="7" text-anchor="middle" fill="#1c1c1c" color="#1c1c1c">CD4</text>
<text x="508.9" y="125.7" font-size="7" text-anchor="middle" fill="#1c1c1c" color="#1c1c1c">w/o</text>
<text x="46.5" y="166.3" font-size="7" text-anchor="middle" fill="#1c1c1c" color="#1c1c1c">CD40L<tspan font-size="4.2" dy="-2.8">+</tspan><tspan font-size="7" dy="2.8"> CD8<tspan font-size="4.2" dy="-2.8">+</tspan><tspan font-size="7" dy="2.8"></tspan></tspan></text>
<text x="46.5" y="177" font-size="7" text-anchor="middle" fill="#1c1c1c" color="#1c1c1c">memory T cells</text>
<text x="141.6" y="166.3" font-size="7" text-anchor="middle" fill="#1c1c1c" color="#1c1c1c">CD40L<tspan font-size="4.2" dy="-2.8">-</tspan><tspan font-size="7" dy="2.8"> CD8<tspan font-size="4.2" dy="-2.8">+</tspan><tspan font-size="7" dy="2.8"></tspan></tspan></text>
<text x="141.6" y="177" font-size="7" text-anchor="middle" fill="#1c1c1c" color="#1c1c1c">memory T cells</text>
<text x="236.5" y="166.3" font-size="7" text-anchor="middle" fill="#1c1c1c" color="#1c1c1c">CD40L<tspan font-size="4.2" dy="-2.8">+</tspan><tspan font-size="7" dy="2.8"> CD4<tspan font-size="4.2" dy="-2.8">+</tspan><tspan font-size="7" dy="2.8"></tspan></tspan></text>
<text x="236.5" y="177" font-size="7" text-anchor="middle" fill="#1c1c1c" color="#1c1c1c">memory T cells</text>
<text x="327.4" y="172.7" font-size="7" text-anchor="middle" fill="#1c1c1c" color="#1c1c1c">w/o T cells</text>
<rect x="9.6" y="182.8" width="72.4" height="72.2" fill="white" stroke="#888" stroke-width="0.9"/>
<line x1="10.1" y1="184.9" x2="81.5" y2="184.9" stroke="#6a6a6a" stroke-width="0.8"/>
<line x1="10.8" y1="183.7" x2="10.8" y2="186.2" stroke="#555" stroke-width="0.6"/>
<line x1="55.8" y1="183.7" x2="55.8" y2="186.2" stroke="#555" stroke-width="0.6"/>
<line x1="81.2" y1="183.7" x2="81.2" y2="186.2" stroke="#555" stroke-width="0.6"/>
<line x1="8" y1="186.1" x2="9.6" y2="186.1" stroke="#777" stroke-width="0.6"/>
<text x="7.4" y="187.2" font-size="3.0" text-anchor="end" fill="#444" color="#444" style="stroke-width:0.08px">100</text>
<line x1="8" y1="199.88" x2="9.6" y2="199.88" stroke="#777" stroke-width="0.6"/>
<text x="7.4" y="200.98" font-size="3.0" text-anchor="end" fill="#444" color="#444" style="stroke-width:0.08px">80</text>
<line x1="8" y1="213.66" x2="9.6" y2="213.66" stroke="#777" stroke-width="0.6"/>
<text x="7.4" y="214.76" font-size="3.0" text-anchor="end" fill="#444" color="#444" style="stroke-width:0.08px">60</text>
<line x1="8" y1="227.44" x2="9.6" y2="227.44" stroke="#777" stroke-width="0.6"/>
<text x="7.4" y="228.54" font-size="3.0" text-anchor="end" fill="#444" color="#444" style="stroke-width:0.08px">40</text>
<line x1="8" y1="241.22" x2="9.6" y2="241.22" stroke="#777" stroke-width="0.6"/>
<text x="7.4" y="242.32" font-size="3.0" text-anchor="end" fill="#444" color="#444" style="stroke-width:0.08px">20</text>
<line x1="8" y1="255" x2="9.6" y2="255" stroke="#777" stroke-width="0.6"/>
<text x="7.4" y="256.1" font-size="3.0" text-anchor="end" fill="#444" color="#444" style="stroke-width:0.08px">0</text>
<line x1="8.7" y1="186.1" x2="9.6" y2="186.1" stroke="#aaa" stroke-width="0.35"/>
<line x1="8.7" y1="189.54" x2="9.6" y2="189.54" stroke="#aaa" stroke-width="0.35"/>
<line x1="8.7" y1="192.99" x2="9.6" y2="192.99" stroke="#aaa" stroke-width="0.35"/>
<line x1="8.7" y1="196.44" x2="9.6" y2="196.44" stroke="#aaa" stroke-width="0.35"/>
<line x1="8.7" y1="199.88" x2="9.6" y2="199.88" stroke="#aaa" stroke-width="0.35"/>
<line x1="8.7" y1="203.32" x2="9.6" y2="203.32" stroke="#aaa" stroke-width="0.35"/>
<line x1="8.7" y1="206.77" x2="9.6" y2="206.77" stroke="#aaa" stroke-width="0.35"/>
<line x1="8.7" y1="210.22" x2="9.6" y2="210.22" stroke="#aaa" stroke-width="0.35"/>
<line x1="8.7" y1="213.66" x2="9.6" y2="213.66" stroke="#aaa" stroke-width="0.35"/>
<line x1="8.7" y1="217.1" x2="9.6" y2="217.1" stroke="#aaa" stroke-width="0.35"/>
<line x1="8.7" y1="220.55" x2="9.6" y2="220.55" stroke="#aaa" stroke-width="0.35"/>
<line x1="8.7" y1="224" x2="9.6" y2="224" stroke="#aaa" stroke-width="0.35"/>
<line x1="8.7" y1="227.44" x2="9.6" y2="227.44" stroke="#aaa" stroke-width="0.35"/>
<line x1="8.7" y1="230.88" x2="9.6" y2="230.88" stroke="#aaa" stroke-width="0.35"/>
<line x1="8.7" y1="234.33" x2="9.6" y2="234.33" stroke="#aaa" stroke-width="0.35"/>
<line x1="8.7" y1="237.77" x2="9.6" y2="237.77" stroke="#aaa" stroke-width="0.35"/>
<line x1="8.7" y1="241.22" x2="9.6" y2="241.22" stroke="#aaa" stroke-width="0.35"/>
<line x1="8.7" y1="244.67" x2="9.6" y2="244.67" stroke="#aaa" stroke-width="0.35"/>
<line x1="8.7" y1="248.11" x2="9.6" y2="248.11" stroke="#aaa" stroke-width="0.35"/>
<line x1="8.7" y1="251.56" x2="9.6" y2="251.56" stroke="#aaa" stroke-width="0.35"/>
<line x1="8.7" y1="255" x2="9.6" y2="255" stroke="#aaa" stroke-width="0.35"/>
<text x="17.6" y="261" font-size="3.1" text-anchor="middle" fill="#444" color="#444" style="stroke-width:0.08px">0</text>
<text x="25.5" y="261" font-size="3.1" text-anchor="middle" fill="#444" color="#444" style="stroke-width:0.08px">10<tspan font-size="2.1" dy="-1.4">2</tspan></text>
<line x1="25" y1="255" x2="25" y2="256.4" stroke="#777" stroke-width="0.5"/>
<text x="41.7" y="261" font-size="3.1" text-anchor="middle" fill="#444" color="#444" style="stroke-width:0.08px">10<tspan font-size="2.1" dy="-1.4">3</tspan></text>
<line x1="41.2" y1="255" x2="41.2" y2="256.4" stroke="#777" stroke-width="0.5"/>
<text x="57.9" y="261" font-size="3.1" text-anchor="middle" fill="#444" color="#444" style="stroke-width:0.08px">10<tspan font-size="2.1" dy="-1.4">4</tspan></text>
<line x1="57.4" y1="255" x2="57.4" y2="256.4" stroke="#777" stroke-width="0.5"/>
<text x="74.1" y="261" font-size="3.1" text-anchor="middle" fill="#444" color="#444" style="stroke-width:0.08px">10<tspan font-size="2.1" dy="-1.4">5</tspan></text>
<line x1="73.6" y1="255" x2="73.6" y2="256.4" stroke="#777" stroke-width="0.5"/>
<line x1="29.88" y1="255" x2="29.88" y2="255.8" stroke="#aaa" stroke-width="0.35"/>
<line x1="32.73" y1="255" x2="32.73" y2="255.8" stroke="#aaa" stroke-width="0.35"/>
<line x1="34.75" y1="255" x2="34.75" y2="255.8" stroke="#aaa" stroke-width="0.35"/>
<line x1="36.32" y1="255" x2="36.32" y2="255.8" stroke="#aaa" stroke-width="0.35"/>
<line x1="37.61" y1="255" x2="37.61" y2="255.8" stroke="#aaa" stroke-width="0.35"/>
<line x1="38.69" y1="255" x2="38.69" y2="255.8" stroke="#aaa" stroke-width="0.35"/>
<line x1="39.63" y1="255" x2="39.63" y2="255.8" stroke="#aaa" stroke-width="0.35"/>
<line x1="40.46" y1="255" x2="40.46" y2="255.8" stroke="#aaa" stroke-width="0.35"/>
<line x1="46.08" y1="255" x2="46.08" y2="255.8" stroke="#aaa" stroke-width="0.35"/>
<line x1="48.93" y1="255" x2="48.93" y2="255.8" stroke="#aaa" stroke-width="0.35"/>
<line x1="50.95" y1="255" x2="50.95" y2="255.8" stroke="#aaa" stroke-width="0.35"/>
<line x1="52.52" y1="255" x2="52.52" y2="255.8" stroke="#aaa" stroke-width="0.35"/>
<line x1="53.81" y1="255" x2="53.81" y2="255.8" stroke="#aaa" stroke-width="0.35"/>
<line x1="54.89" y1="255" x2="54.89" y2="255.8" stroke="#aaa" stroke-width="0.35"/>
<line x1="55.83" y1="255" x2="55.83" y2="255.8" stroke="#aaa" stroke-width="0.35"/>
<line x1="56.66" y1="255" x2="56.66" y2="255.8" stroke="#aaa" stroke-width="0.35"/>
<line x1="62.28" y1="255" x2="62.28" y2="255.8" stroke="#aaa" stroke-width="0.35"/>
<line x1="65.13" y1="255" x2="65.13" y2="255.8" stroke="#aaa" stroke-width="0.35"/>
<line x1="67.15" y1="255" x2="67.15" y2="255.8" stroke="#aaa" stroke-width="0.35"/>
<line x1="68.72" y1="255" x2="68.72" y2="255.8" stroke="#aaa" stroke-width="0.35"/>
<line x1="70.01" y1="255" x2="70.01" y2="255.8" stroke="#aaa" stroke-width="0.35"/>
<line x1="71.09" y1="255" x2="71.09" y2="255.8" stroke="#aaa" stroke-width="0.35"/>
<line x1="72.03" y1="255" x2="72.03" y2="255.8" stroke="#aaa" stroke-width="0.35"/>
<line x1="72.86" y1="255" x2="72.86" y2="255.8" stroke="#aaa" stroke-width="0.35"/>
<rect x="104.8" y="182.8" width="72.4" height="72.2" fill="white" stroke="#888" stroke-width="0.9"/>
<line x1="105.3" y1="184.9" x2="176.7" y2="184.9" stroke="#6a6a6a" stroke-width="0.8"/>
<line x1="106" y1="183.7" x2="106" y2="186.2" stroke="#555" stroke-width="0.6"/>
<line x1="150.5" y1="183.7" x2="150.5" y2="186.2" stroke="#555" stroke-width="0.6"/>
<line x1="176.4" y1="183.7" x2="176.4" y2="186.2" stroke="#555" stroke-width="0.6"/>
<line x1="103.2" y1="186.1" x2="104.8" y2="186.1" stroke="#777" stroke-width="0.6"/>
<text x="102.6" y="187.2" font-size="3.0" text-anchor="end" fill="#444" color="#444" style="stroke-width:0.08px">100</text>
<line x1="103.2" y1="199.88" x2="104.8" y2="199.88" stroke="#777" stroke-width="0.6"/>
<text x="102.6" y="200.98" font-size="3.0" text-anchor="end" fill="#444" color="#444" style="stroke-width:0.08px">80</text>
<line x1="103.2" y1="213.66" x2="104.8" y2="213.66" stroke="#777" stroke-width="0.6"/>
<text x="102.6" y="214.76" font-size="3.0" text-anchor="end" fill="#444" color="#444" style="stroke-width:0.08px">60</text>
<line x1="103.2" y1="227.44" x2="104.8" y2="227.44" stroke="#777" stroke-width="0.6"/>
<text x="102.6" y="228.54" font-size="3.0" text-anchor="end" fill="#444" color="#444" style="stroke-width:0.08px">40</text>
<line x1="103.2" y1="241.22" x2="104.8" y2="241.22" stroke="#777" stroke-width="0.6"/>
<text x="102.6" y="242.32" font-size="3.0" text-anchor="end" fill="#444" color="#444" style="stroke-width:0.08px">20</text>
<line x1="103.2" y1="255" x2="104.8" y2="255" stroke="#777" stroke-width="0.6"/>
<text x="102.6" y="256.1" font-size="3.0" text-anchor="end" fill="#444" color="#444" style="stroke-width:0.08px">0</text>
<line x1="103.9" y1="186.1" x2="104.8" y2="186.1" stroke="#aaa" stroke-width="0.35"/>
<line x1="103.9" y1="189.54" x2="104.8" y2="189.54" stroke="#aaa" stroke-width="0.35"/>
<line x1="103.9" y1="192.99" x2="104.8" y2="192.99" stroke="#aaa" stroke-width="0.35"/>
<line x1="103.9" y1="196.44" x2="104.8" y2="196.44" stroke="#aaa" stroke-width="0.35"/>
<line x1="103.9" y1="199.88" x2="104.8" y2="199.88" stroke="#aaa" stroke-width="0.35"/>
<line x1="103.9" y1="203.32" x2="104.8" y2="203.32" stroke="#aaa" stroke-width="0.35"/>
<line x1="103.9" y1="206.77" x2="104.8" y2="206.77" stroke="#aaa" stroke-width="0.35"/>
<line x1="103.9" y1="210.22" x2="104.8" y2="210.22" stroke="#aaa" stroke-width="0.35"/>
<line x1="103.9" y1="213.66" x2="104.8" y2="213.66" stroke="#aaa" stroke-width="0.35"/>
<line x1="103.9" y1="217.1" x2="104.8" y2="217.1" stroke="#aaa" stroke-width="0.35"/>
<line x1="103.9" y1="220.55" x2="104.8" y2="220.55" stroke="#aaa" stroke-width="0.35"/>
<line x1="103.9" y1="224" x2="104.8" y2="224" stroke="#aaa" stroke-width="0.35"/>
<line x1="103.9" y1="227.44" x2="104.8" y2="227.44" stroke="#aaa" stroke-width="0.35"/>
<line x1="103.9" y1="230.88" x2="104.8" y2="230.88" stroke="#aaa" stroke-width="0.35"/>
<line x1="103.9" y1="234.33" x2="104.8" y2="234.33" stroke="#aaa" stroke-width="0.35"/>
<line x1="103.9" y1="237.77" x2="104.8" y2="237.77" stroke="#aaa" stroke-width="0.35"/>
<line x1="103.9" y1="241.22" x2="104.8" y2="241.22" stroke="#aaa" stroke-width="0.35"/>
<line x1="103.9" y1="244.67" x2="104.8" y2="244.67" stroke="#aaa" stroke-width="0.35"/>
<line x1="103.9" y1="248.11" x2="104.8" y2="248.11" stroke="#aaa" stroke-width="0.35"/>
<line x1="103.9" y1="251.56" x2="104.8" y2="251.56" stroke="#aaa" stroke-width="0.35"/>
<line x1="103.9" y1="255" x2="104.8" y2="255" stroke="#aaa" stroke-width="0.35"/>
<text x="112.8" y="261" font-size="3.1" text-anchor="middle" fill="#444" color="#444" style="stroke-width:0.08px">0</text>
<text x="120.7" y="261" font-size="3.1" text-anchor="middle" fill="#444" color="#444" style="stroke-width:0.08px">10<tspan font-size="2.1" dy="-1.4">2</tspan></text>
<line x1="120.2" y1="255" x2="120.2" y2="256.4" stroke="#777" stroke-width="0.5"/>
<text x="136.9" y="261" font-size="3.1" text-anchor="middle" fill="#444" color="#444" style="stroke-width:0.08px">10<tspan font-size="2.1" dy="-1.4">3</tspan></text>
<line x1="136.4" y1="255" x2="136.4" y2="256.4" stroke="#777" stroke-width="0.5"/>
<text x="153.1" y="261" font-size="3.1" text-anchor="middle" fill="#444" color="#444" style="stroke-width:0.08px">10<tspan font-size="2.1" dy="-1.4">4</tspan></text>
<line x1="152.6" y1="255" x2="152.6" y2="256.4" stroke="#777" stroke-width="0.5"/>
<text x="169.3" y="261" font-size="3.1" text-anchor="middle" fill="#444" color="#444" style="stroke-width:0.08px">10<tspan font-size="2.1" dy="-1.4">5</tspan></text>
<line x1="168.8" y1="255" x2="168.8" y2="256.4" stroke="#777" stroke-width="0.5"/>
<line x1="125.08" y1="255" x2="125.08" y2="255.8" stroke="#aaa" stroke-width="0.35"/>
<line x1="127.93" y1="255" x2="127.93" y2="255.8" stroke="#aaa" stroke-width="0.35"/>
<line x1="129.95" y1="255" x2="129.95" y2="255.8" stroke="#aaa" stroke-width="0.35"/>
<line x1="131.52" y1="255" x2="131.52" y2="255.8" stroke="#aaa" stroke-width="0.35"/>
<line x1="132.81" y1="255" x2="132.81" y2="255.8" stroke="#aaa" stroke-width="0.35"/>
<line x1="133.89" y1="255" x2="133.89" y2="255.8" stroke="#aaa" stroke-width="0.35"/>
<line x1="134.83" y1="255" x2="134.83" y2="255.8" stroke="#aaa" stroke-width="0.35"/>
<line x1="135.66" y1="255" x2="135.66" y2="255.8" stroke="#aaa" stroke-width="0.35"/>
<line x1="141.28" y1="255" x2="141.28" y2="255.8" stroke="#aaa" stroke-width="0.35"/>
<line x1="144.13" y1="255" x2="144.13" y2="255.8" stroke="#aaa" stroke-width="0.35"/>
<line x1="146.15" y1="255" x2="146.15" y2="255.8" stroke="#aaa" stroke-width="0.35"/>
<line x1="147.72" y1="255" x2="147.72" y2="255.8" stroke="#aaa" stroke-width="0.35"/>
<line x1="149.01" y1="255" x2="149.01" y2="255.8" stroke="#aaa" stroke-width="0.35"/>
<line x1="150.09" y1="255" x2="150.09" y2="255.8" stroke="#aaa" stroke-width="0.35"/>
<line x1="151.03" y1="255" x2="151.03" y2="255.8" stroke="#aaa" stroke-width="0.35"/>
<line x1="151.86" y1="255" x2="151.86" y2="255.8" stroke="#aaa" stroke-width="0.35"/>
<line x1="157.48" y1="255" x2="157.48" y2="255.8" stroke="#aaa" stroke-width="0.35"/>
<line x1="160.33" y1="255" x2="160.33" y2="255.8" stroke="#aaa" stroke-width="0.35"/>
<line x1="162.35" y1="255" x2="162.35" y2="255.8" stroke="#aaa" stroke-width="0.35"/>
<line x1="163.92" y1="255" x2="163.92" y2="255.8" stroke="#aaa" stroke-width="0.35"/>
<line x1="165.21" y1="255" x2="165.21" y2="255.8" stroke="#aaa" stroke-width="0.35"/>
<line x1="166.29" y1="255" x2="166.29" y2="255.8" stroke="#aaa" stroke-width="0.35"/>
<line x1="167.23" y1="255" x2="167.23" y2="255.8" stroke="#aaa" stroke-width="0.35"/>
<line x1="168.06" y1="255" x2="168.06" y2="255.8" stroke="#aaa" stroke-width="0.35"/>
<rect x="199" y="182.8" width="72.4" height="72.2" fill="white" stroke="#888" stroke-width="0.9"/>
<line x1="199.5" y1="184.9" x2="270.9" y2="184.9" stroke="#6a6a6a" stroke-width="0.8"/>
<line x1="200.2" y1="183.7" x2="200.2" y2="186.2" stroke="#555" stroke-width="0.6"/>
<line x1="245.2" y1="183.7" x2="245.2" y2="186.2" stroke="#555" stroke-width="0.6"/>
<line x1="270.6" y1="183.7" x2="270.6" y2="186.2" stroke="#555" stroke-width="0.6"/>
<line x1="197.4" y1="186.1" x2="199" y2="186.1" stroke="#777" stroke-width="0.6"/>
<text x="196.8" y="187.2" font-size="3.0" text-anchor="end" fill="#444" color="#444" style="stroke-width:0.08px">100</text>
<line x1="197.4" y1="199.88" x2="199" y2="199.88" stroke="#777" stroke-width="0.6"/>
<text x="196.8" y="200.98" font-size="3.0" text-anchor="end" fill="#444" color="#444" style="stroke-width:0.08px">80</text>
<line x1="197.4" y1="213.66" x2="199" y2="213.66" stroke="#777" stroke-width="0.6"/>
<text x="196.8" y="214.76" font-size="3.0" text-anchor="end" fill="#444" color="#444" style="stroke-width:0.08px">60</text>
<line x1="197.4" y1="227.44" x2="199" y2="227.44" stroke="#777" stroke-width="0.6"/>
<text x="196.8" y="228.54" font-size="3.0" text-anchor="end" fill="#444" color="#444" style="stroke-width:0.08px">40</text>
<line x1="197.4" y1="241.22" x2="199" y2="241.22" stroke="#777" stroke-width="0.6"/>
<text x="196.8" y="242.32" font-size="3.0" text-anchor="end" fill="#444" color="#444" style="stroke-width:0.08px">20</text>
<line x1="197.4" y1="255" x2="199" y2="255" stroke="#777" stroke-width="0.6"/>
<text x="196.8" y="256.1" font-size="3.0" text-anchor="end" fill="#444" color="#444" style="stroke-width:0.08px">0</text>
<line x1="198.1" y1="186.1" x2="199" y2="186.1" stroke="#aaa" stroke-width="0.35"/>
<line x1="198.1" y1="189.54" x2="199" y2="189.54" stroke="#aaa" stroke-width="0.35"/>
<line x1="198.1" y1="192.99" x2="199" y2="192.99" stroke="#aaa" stroke-width="0.35"/>
<line x1="198.1" y1="196.44" x2="199" y2="196.44" stroke="#aaa" stroke-width="0.35"/>
<line x1="198.1" y1="199.88" x2="199" y2="199.88" stroke="#aaa" stroke-width="0.35"/>
<line x1="198.1" y1="203.32" x2="199" y2="203.32" stroke="#aaa" stroke-width="0.35"/>
<line x1="198.1" y1="206.77" x2="199" y2="206.77" stroke="#aaa" stroke-width="0.35"/>
<line x1="198.1" y1="210.22" x2="199" y2="210.22" stroke="#aaa" stroke-width="0.35"/>
<line x1="198.1" y1="213.66" x2="199" y2="213.66" stroke="#aaa" stroke-width="0.35"/>
<line x1="198.1" y1="217.1" x2="199" y2="217.1" stroke="#aaa" stroke-width="0.35"/>
<line x1="198.1" y1="220.55" x2="199" y2="220.55" stroke="#aaa" stroke-width="0.35"/>
<line x1="198.1" y1="224" x2="199" y2="224" stroke="#aaa" stroke-width="0.35"/>
<line x1="198.1" y1="227.44" x2="199" y2="227.44" stroke="#aaa" stroke-width="0.35"/>
<line x1="198.1" y1="230.88" x2="199" y2="230.88" stroke="#aaa" stroke-width="0.35"/>
<line x1="198.1" y1="234.33" x2="199" y2="234.33" stroke="#aaa" stroke-width="0.35"/>
<line x1="198.1" y1="237.77" x2="199" y2="237.77" stroke="#aaa" stroke-width="0.35"/>
<line x1="198.1" y1="241.22" x2="199" y2="241.22" stroke="#aaa" stroke-width="0.35"/>
<line x1="198.1" y1="244.67" x2="199" y2="244.67" stroke="#aaa" stroke-width="0.35"/>
<line x1="198.1" y1="248.11" x2="199" y2="248.11" stroke="#aaa" stroke-width="0.35"/>
<line x1="198.1" y1="251.56" x2="199" y2="251.56" stroke="#aaa" stroke-width="0.35"/>
<line x1="198.1" y1="255" x2="199" y2="255" stroke="#aaa" stroke-width="0.35"/>
<text x="207" y="261" font-size="3.1" text-anchor="middle" fill="#444" color="#444" style="stroke-width:0.08px">0</text>
<text x="214.9" y="261" font-size="3.1" text-anchor="middle" fill="#444" color="#444" style="stroke-width:0.08px">10<tspan font-size="2.1" dy="-1.4">2</tspan></text>
<line x1="214.4" y1="255" x2="214.4" y2="256.4" stroke="#777" stroke-width="0.5"/>
<text x="231.1" y="261" font-size="3.1" text-anchor="middle" fill="#444" color="#444" style="stroke-width:0.08px">10<tspan font-size="2.1" dy="-1.4">3</tspan></text>
<line x1="230.6" y1="255" x2="230.6" y2="256.4" stroke="#777" stroke-width="0.5"/>
<text x="247.3" y="261" font-size="3.1" text-anchor="middle" fill="#444" color="#444" style="stroke-width:0.08px">10<tspan font-size="2.1" dy="-1.4">4</tspan></text>
<line x1="246.8" y1="255" x2="246.8" y2="256.4" stroke="#777" stroke-width="0.5"/>
<text x="263.5" y="261" font-size="3.1" text-anchor="middle" fill="#444" color="#444" style="stroke-width:0.08px">10<tspan font-size="2.1" dy="-1.4">5</tspan></text>
<line x1="263" y1="255" x2="263" y2="256.4" stroke="#777" stroke-width="0.5"/>
<line x1="219.28" y1="255" x2="219.28" y2="255.8" stroke="#aaa" stroke-width="0.35"/>
<line x1="222.13" y1="255" x2="222.13" y2="255.8" stroke="#aaa" stroke-width="0.35"/>
<line x1="224.15" y1="255" x2="224.15" y2="255.8" stroke="#aaa" stroke-width="0.35"/>
<line x1="225.72" y1="255" x2="225.72" y2="255.8" stroke="#aaa" stroke-width="0.35"/>
<line x1="227.01" y1="255" x2="227.01" y2="255.8" stroke="#aaa" stroke-width="0.35"/>
<line x1="228.09" y1="255" x2="228.09" y2="255.8" stroke="#aaa" stroke-width="0.35"/>
<line x1="229.03" y1="255" x2="229.03" y2="255.8" stroke="#aaa" stroke-width="0.35"/>
<line x1="229.86" y1="255" x2="229.86" y2="255.8" stroke="#aaa" stroke-width="0.35"/>
<line x1="235.48" y1="255" x2="235.48" y2="255.8" stroke="#aaa" stroke-width="0.35"/>
<line x1="238.33" y1="255" x2="238.33" y2="255.8" stroke="#aaa" stroke-width="0.35"/>
<line x1="240.35" y1="255" x2="240.35" y2="255.8" stroke="#aaa" stroke-width="0.35"/>
<line x1="241.92" y1="255" x2="241.92" y2="255.8" stroke="#aaa" stroke-width="0.35"/>
<line x1="243.21" y1="255" x2="243.21" y2="255.8" stroke="#aaa" stroke-width="0.35"/>
<line x1="244.29" y1="255" x2="244.29" y2="255.8" stroke="#aaa" stroke-width="0.35"/>
<line x1="245.23" y1="255" x2="245.23" y2="255.8" stroke="#aaa" stroke-width="0.35"/>
<line x1="246.06" y1="255" x2="246.06" y2="255.8" stroke="#aaa" stroke-width="0.35"/>
<line x1="251.68" y1="255" x2="251.68" y2="255.8" stroke="#aaa" stroke-width="0.35"/>
<line x1="254.53" y1="255" x2="254.53" y2="255.8" stroke="#aaa" stroke-width="0.35"/>
<line x1="256.55" y1="255" x2="256.55" y2="255.8" stroke="#aaa" stroke-width="0.35"/>
<line x1="258.12" y1="255" x2="258.12" y2="255.8" stroke="#aaa" stroke-width="0.35"/>
<line x1="259.41" y1="255" x2="259.41" y2="255.8" stroke="#aaa" stroke-width="0.35"/>
<line x1="260.49" y1="255" x2="260.49" y2="255.8" stroke="#aaa" stroke-width="0.35"/>
<line x1="261.43" y1="255" x2="261.43" y2="255.8" stroke="#aaa" stroke-width="0.35"/>
<line x1="262.26" y1="255" x2="262.26" y2="255.8" stroke="#aaa" stroke-width="0.35"/>
<rect x="292.9" y="182.8" width="72.4" height="72.2" fill="white" stroke="#888" stroke-width="0.9"/>
<line x1="293.4" y1="184.9" x2="364.8" y2="184.9" stroke="#6a6a6a" stroke-width="0.8"/>
<line x1="294.1" y1="183.7" x2="294.1" y2="186.2" stroke="#555" stroke-width="0.6"/>
<line x1="339" y1="183.7" x2="339" y2="186.2" stroke="#555" stroke-width="0.6"/>
<line x1="364.5" y1="183.7" x2="364.5" y2="186.2" stroke="#555" stroke-width="0.6"/>
<line x1="291.3" y1="186.1" x2="292.9" y2="186.1" stroke="#777" stroke-width="0.6"/>
<text x="290.7" y="187.2" font-size="3.0" text-anchor="end" fill="#444" color="#444" style="stroke-width:0.08px">100</text>
<line x1="291.3" y1="199.88" x2="292.9" y2="199.88" stroke="#777" stroke-width="0.6"/>
<text x="290.7" y="200.98" font-size="3.0" text-anchor="end" fill="#444" color="#444" style="stroke-width:0.08px">80</text>
<line x1="291.3" y1="213.66" x2="292.9" y2="213.66" stroke="#777" stroke-width="0.6"/>
<text x="290.7" y="214.76" font-size="3.0" text-anchor="end" fill="#444" color="#444" style="stroke-width:0.08px">60</text>
<line x1="291.3" y1="227.44" x2="292.9" y2="227.44" stroke="#777" stroke-width="0.6"/>
<text x="290.7" y="228.54" font-size="3.0" text-anchor="end" fill="#444" color="#444" style="stroke-width:0.08px">40</text>
<line x1="291.3" y1="241.22" x2="292.9" y2="241.22" stroke="#777" stroke-width="0.6"/>
<text x="290.7" y="242.32" font-size="3.0" text-anchor="end" fill="#444" color="#444" style="stroke-width:0.08px">20</text>
<line x1="291.3" y1="255" x2="292.9" y2="255" stroke="#777" stroke-width="0.6"/>
<text x="290.7" y="256.1" font-size="3.0" text-anchor="end" fill="#444" color="#444" style="stroke-width:0.08px">0</text>
<line x1="292" y1="186.1" x2="292.9" y2="186.1" stroke="#aaa" stroke-width="0.35"/>
<line x1="292" y1="189.54" x2="292.9" y2="189.54" stroke="#aaa" stroke-width="0.35"/>
<line x1="292" y1="192.99" x2="292.9" y2="192.99" stroke="#aaa" stroke-width="0.35"/>
<line x1="292" y1="196.44" x2="292.9" y2="196.44" stroke="#aaa" stroke-width="0.35"/>
<line x1="292" y1="199.88" x2="292.9" y2="199.88" stroke="#aaa" stroke-width="0.35"/>
<line x1="292" y1="203.32" x2="292.9" y2="203.32" stroke="#aaa" stroke-width="0.35"/>
<line x1="292" y1="206.77" x2="292.9" y2="206.77" stroke="#aaa" stroke-width="0.35"/>
<line x1="292" y1="210.22" x2="292.9" y2="210.22" stroke="#aaa" stroke-width="0.35"/>
<line x1="292" y1="213.66" x2="292.9" y2="213.66" stroke="#aaa" stroke-width="0.35"/>
<line x1="292" y1="217.1" x2="292.9" y2="217.1" stroke="#aaa" stroke-width="0.35"/>
<line x1="292" y1="220.55" x2="292.9" y2="220.55" stroke="#aaa" stroke-width="0.35"/>
<line x1="292" y1="224" x2="292.9" y2="224" stroke="#aaa" stroke-width="0.35"/>
<line x1="292" y1="227.44" x2="292.9" y2="227.44" stroke="#aaa" stroke-width="0.35"/>
<line x1="292" y1="230.88" x2="292.9" y2="230.88" stroke="#aaa" stroke-width="0.35"/>
<line x1="292" y1="234.33" x2="292.9" y2="234.33" stroke="#aaa" stroke-width="0.35"/>
<line x1="292" y1="237.77" x2="292.9" y2="237.77" stroke="#aaa" stroke-width="0.35"/>
<line x1="292" y1="241.22" x2="292.9" y2="241.22" stroke="#aaa" stroke-width="0.35"/>
<line x1="292" y1="244.67" x2="292.9" y2="244.67" stroke="#aaa" stroke-width="0.35"/>
<line x1="292" y1="248.11" x2="292.9" y2="248.11" stroke="#aaa" stroke-width="0.35"/>
<line x1="292" y1="251.56" x2="292.9" y2="251.56" stroke="#aaa" stroke-width="0.35"/>
<line x1="292" y1="255" x2="292.9" y2="255" stroke="#aaa" stroke-width="0.35"/>
<text x="300.9" y="261" font-size="3.1" text-anchor="middle" fill="#444" color="#444" style="stroke-width:0.08px">0</text>
<text x="308.8" y="261" font-size="3.1" text-anchor="middle" fill="#444" color="#444" style="stroke-width:0.08px">10<tspan font-size="2.1" dy="-1.4">2</tspan></text>
<line x1="308.3" y1="255" x2="308.3" y2="256.4" stroke="#777" stroke-width="0.5"/>
<text x="325" y="261" font-size="3.1" text-anchor="middle" fill="#444" color="#444" style="stroke-width:0.08px">10<tspan font-size="2.1" dy="-1.4">3</tspan></text>
<line x1="324.5" y1="255" x2="324.5" y2="256.4" stroke="#777" stroke-width="0.5"/>
<text x="341.2" y="261" font-size="3.1" text-anchor="middle" fill="#444" color="#444" style="stroke-width:0.08px">10<tspan font-size="2.1" dy="-1.4">4</tspan></text>
<line x1="340.7" y1="255" x2="340.7" y2="256.4" stroke="#777" stroke-width="0.5"/>
<text x="357.4" y="261" font-size="3.1" text-anchor="middle" fill="#444" color="#444" style="stroke-width:0.08px">10<tspan font-size="2.1" dy="-1.4">5</tspan></text>
<line x1="356.9" y1="255" x2="356.9" y2="256.4" stroke="#777" stroke-width="0.5"/>
<line x1="313.18" y1="255" x2="313.18" y2="255.8" stroke="#aaa" stroke-width="0.35"/>
<line x1="316.03" y1="255" x2="316.03" y2="255.8" stroke="#aaa" stroke-width="0.35"/>
<line x1="318.05" y1="255" x2="318.05" y2="255.8" stroke="#aaa" stroke-width="0.35"/>
<line x1="319.62" y1="255" x2="319.62" y2="255.8" stroke="#aaa" stroke-width="0.35"/>
<line x1="320.91" y1="255" x2="320.91" y2="255.8" stroke="#aaa" stroke-width="0.35"/>
<line x1="321.99" y1="255" x2="321.99" y2="255.8" stroke="#aaa" stroke-width="0.35"/>
<line x1="322.93" y1="255" x2="322.93" y2="255.8" stroke="#aaa" stroke-width="0.35"/>
<line x1="323.76" y1="255" x2="323.76" y2="255.8" stroke="#aaa" stroke-width="0.35"/>
<line x1="329.38" y1="255" x2="329.38" y2="255.8" stroke="#aaa" stroke-width="0.35"/>
<line x1="332.23" y1="255" x2="332.23" y2="255.8" stroke="#aaa" stroke-width="0.35"/>
<line x1="334.25" y1="255" x2="334.25" y2="255.8" stroke="#aaa" stroke-width="0.35"/>
<line x1="335.82" y1="255" x2="335.82" y2="255.8" stroke="#aaa" stroke-width="0.35"/>
<line x1="337.11" y1="255" x2="337.11" y2="255.8" stroke="#aaa" stroke-width="0.35"/>
<line x1="338.19" y1="255" x2="338.19" y2="255.8" stroke="#aaa" stroke-width="0.35"/>
<line x1="339.13" y1="255" x2="339.13" y2="255.8" stroke="#aaa" stroke-width="0.35"/>
<line x1="339.96" y1="255" x2="339.96" y2="255.8" stroke="#aaa" stroke-width="0.35"/>
<line x1="345.58" y1="255" x2="345.58" y2="255.8" stroke="#aaa" stroke-width="0.35"/>
<line x1="348.43" y1="255" x2="348.43" y2="255.8" stroke="#aaa" stroke-width="0.35"/>
<line x1="350.45" y1="255" x2="350.45" y2="255.8" stroke="#aaa" stroke-width="0.35"/>
<line x1="352.02" y1="255" x2="352.02" y2="255.8" stroke="#aaa" stroke-width="0.35"/>
<line x1="353.31" y1="255" x2="353.31" y2="255.8" stroke="#aaa" stroke-width="0.35"/>
<line x1="354.39" y1="255" x2="354.39" y2="255.8" stroke="#aaa" stroke-width="0.35"/>
<line x1="355.33" y1="255" x2="355.33" y2="255.8" stroke="#aaa" stroke-width="0.35"/>
<line x1="356.16" y1="255" x2="356.16" y2="255.8" stroke="#aaa" stroke-width="0.35"/>
<text x="16.1" y="195.3" font-size="7" text-anchor="start" fill="#222" color="#222">72%</text>
<text x="16.1" y="203.8" font-size="7" text-anchor="start" fill="#ad3636" color="#ad3636">34%</text>
<text x="110.5" y="195.3" font-size="7" text-anchor="start" fill="#222" color="#222">18%</text>
<text x="110.5" y="203.8" font-size="7" text-anchor="start" fill="#ad3636" color="#ad3636">24%</text>
<text x="205.5" y="195.3" font-size="7" text-anchor="start" fill="#222" color="#222">74%</text>
<text x="205.5" y="203.8" font-size="7" text-anchor="start" fill="#ad3636" color="#ad3636">25%</text>
<text x="301.9" y="195.3" font-size="7" text-anchor="start" fill="#222" color="#222">1%</text>
<text x="301.9" y="203.8" font-size="7" text-anchor="start" fill="#ad3636" color="#ad3636">0%</text>
<path d="M12,254.8 L19.4,254.5 L24,253.6 L28,251.8 L31.4,245.1 L33.9,233.4 L35.6,221.6 L36.5,210 L37.2,199.8 L38.1,198.1 L38.9,204.8 L39.5,195 L40.1,187.2 L41.1,189.7 L41.7,197 L42.3,203.1 L43.1,204.8 L44.8,216.6 L46.5,226.7 L47.5,230 L48.5,229.5 L50,228.1 L51.6,223.1 L52.6,217 L53.9,209.8 L55,216 L55.5,218.8 L56.5,212 L57.4,205 L58.2,199.8 L58.8,198.6 L59.6,200.5 L60.5,205 L61.2,213 L62,222 L62.7,230.2 L64,239.5 L65.5,244.8 L68,249 L71.6,252.7 L75.2,254.3 L81.5,254.8" fill="none" stroke="#3a3a3a" stroke-width="0.65" stroke-linejoin="round"/>
<path d="M12,254.9 L22,254.8 L25.1,254.3 L28,253.8 L33,250.2 L38.1,245.1 L41,243 L43.1,241.8 L45.6,245.1 L47,246.5 L48.5,247.3 L50,245.3 L52.1,237.2 L54.6,233.7 L55.6,230.2 L56.1,215 L56.9,205 L58.2,189.7 L59.2,187.2 L60.2,191 L61.2,200 L61.8,210 L62.4,218 L63.3,230.2 L64.8,240.3 L66.2,245.3 L68.6,249.3 L72.2,252.9 L75.5,254.4 L81.5,254.9" fill="none" stroke="#c25a5a" stroke-width="0.7" stroke-linejoin="round"/>
<path d="M105.5,254.8 L108,254.2 L112,254.5 L118,253.6 L124,252.4 L130,251.5 L133.7,250.5 L140,248.5 L146.5,246.6 L149.1,242.8 L150.5,235 L151.7,214.4 L153,198 L153.8,191.2 L155,186.2 L156.2,192 L156.9,201.5 L158,214 L159.4,229.9 L160.8,240 L162.5,247.9 L164.5,251.5 L167.2,253.1 L172,254.3 L177,254.8" fill="none" stroke="#3a3a3a" stroke-width="0.65" stroke-linejoin="round"/>
<path d="M105.5,254.9 L110,254.7 L116,253.8 L122,252 L128,251.2 L133.7,249.5 L140,247.5 L146.5,245.6 L149.5,241.8 L150.8,233 L152,214.4 L153.3,197 L154.2,190.2 L155.3,187 L156.5,193 L157.2,202.5 L158.3,215 L159.7,230.9 L161.1,241 L162.8,248.6 L165,252 L168,253.6 L172,254.5 L177,254.9" fill="none" stroke="#c25a5a" stroke-width="0.7" stroke-linejoin="round"/>
<path d="M200,254.8 L205.5,254.6 L211.7,252.7 L216.8,248.5 L220.1,236.8 L222.6,220 L224.3,203.2 L226,194.8 L227.7,188.9 L228.5,198.1 L229.9,197.3 L231,206.5 L232.7,216.6 L234.4,223.3 L236.9,227.5 L238.6,225.9 L240.3,221.7 L241.6,225 L243.3,213.3 L245,193.1 L246.2,187.2 L247.4,193.1 L249,216.6 L250.7,236.8 L253.7,248.5 L258.8,252.7 L265,253.6 L271,254.8" fill="none" stroke="#3a3a3a" stroke-width="0.65" stroke-linejoin="round"/>
<path d="M200,254.9 L210,254.8 L215.1,253.6 L220.1,251 L223.5,248.5 L226,247.7 L227.7,246.9 L230.2,249.4 L233.6,250.2 L238.6,249.4 L241.1,245.2 L243.3,233.4 L245.3,213.3 L247,188 L248.4,187.2 L249.5,196.5 L251.2,220 L252.9,238.5 L255.4,248.5 L260.5,252.7 L266,254.2 L271,254.9" fill="none" stroke="#c25a5a" stroke-width="0.7" stroke-linejoin="round"/>
<path d="M293.5,254.6 L296,253.8 L300,254.4 L303,253.9 L306,254.6 L320,254.8 L336,254.6 L338.3,253.5 L340.2,251.5 L341.4,249.9 L342.9,235.1 L343.8,216.8 L344.7,198.4 L345.5,190 L346.2,187 L346.9,190 L347.5,198.4 L348.4,216.8 L349.3,235.1 L351.1,249.9 L353.5,252.8 L355.7,253.8 L364.5,254.8" fill="none" stroke="#3a3a3a" stroke-width="0.65" stroke-linejoin="round"/>
<path d="M293.5,254.9 L320,254.9 L336,254.8 L338.5,253.7 L340.4,251.7 L341.6,250.1 L343.1,235.3 L344,217 L344.9,198.6 L345.7,190.2 L346.4,187.5 L347.1,190.2 L347.7,198.6 L348.6,217 L349.5,235.3 L351.3,250.1 L353.7,253 L355.9,254 L364.5,254.9" fill="none" stroke="#c25a5a" stroke-width="0.7" stroke-linejoin="round"/>
<line x1="6.2" y1="265.9" x2="363.5" y2="265.9" stroke="#7a7a7a" stroke-width="1.2"/>
<path d="M362.5,264.3 L365.6,265.8 L362.5,267.3 Z" fill="#222"/>
<text x="174.2" y="276.5" font-size="7" text-anchor="start" fill="#1c1c1c" color="#1c1c1c">CFSE</text>
<text x="11.2" y="289.6" font-size="7" text-anchor="start" fill="#1c1c1c" color="#1c1c1c">IgM: 1563(<tspan fill="#ad3636" color="#ad3636">276</tspan>)ng/ml</text>
<text x="11.2" y="301.1" font-size="7" text-anchor="start" fill="#1c1c1c" color="#1c1c1c">IgG: 3108(<tspan fill="#ad3636" color="#ad3636">744</tspan>)ng/ml</text>
<text x="108.3" y="289.6" font-size="7" text-anchor="start" fill="#1c1c1c" color="#1c1c1c">IgM: 91(<tspan fill="#ad3636" color="#ad3636">138</tspan>)ng/ml</text>
<text x="108.3" y="301.1" font-size="7" text-anchor="start" fill="#1c1c1c" color="#1c1c1c">IgG: 302(<tspan fill="#ad3636" color="#ad3636">349</tspan>)ng/ml</text>
<text x="201.2" y="289.6" font-size="7" text-anchor="start" fill="#1c1c1c" color="#1c1c1c">IgM: 1506(<tspan fill="#ad3636" color="#ad3636">181</tspan>)ng/ml</text>
<text x="201.2" y="301.1" font-size="7" text-anchor="start" fill="#1c1c1c" color="#1c1c1c">IgG: 2926(<tspan fill="#ad3636" color="#ad3636">514</tspan>)ng/ml</text>
<text x="302.3" y="289.6" font-size="7" text-anchor="start" fill="#1c1c1c" color="#1c1c1c">IgM: 5(<tspan fill="#ad3636" color="#ad3636">7</tspan>)ng/ml</text>
<text x="302.3" y="301.1" font-size="7" text-anchor="start" fill="#1c1c1c" color="#1c1c1c">IgG: 24(<tspan fill="#ad3636" color="#ad3636">18</tspan>)ng/ml</text>
<line x1="421.7" y1="170.1" x2="421.7" y2="189.6" stroke="#555" stroke-width="0.8"/>
<line x1="420.4" y1="189.6" x2="423" y2="189.6" stroke="#555" stroke-width="0.6"/>
<line x1="421.7" y1="195.5" x2="421.7" y2="267.2" stroke="#555" stroke-width="0.8"/>
<line x1="420.4" y1="195.5" x2="423" y2="195.5" stroke="#555" stroke-width="0.6"/>
<line x1="419.8" y1="170.5" x2="421.7" y2="170.5" stroke="#555" stroke-width="0.8"/>
<text x="419" y="172.95" font-size="6.7" text-anchor="end" fill="#222" color="#222">800</text>
<line x1="419.8" y1="180" x2="421.7" y2="180" stroke="#555" stroke-width="0.8"/>
<text x="419" y="182.45" font-size="6.7" text-anchor="end" fill="#222" color="#222">600</text>
<line x1="419.8" y1="189.6" x2="421.7" y2="189.6" stroke="#555" stroke-width="0.8"/>
<text x="419" y="192.05" font-size="6.7" text-anchor="end" fill="#222" color="#222">400</text>
<line x1="419.8" y1="212.5" x2="421.7" y2="212.5" stroke="#555" stroke-width="0.8"/>
<text x="419" y="214.95" font-size="6.7" text-anchor="end" fill="#222" color="#222">150</text>
<line x1="419.8" y1="239.8" x2="421.7" y2="239.8" stroke="#555" stroke-width="0.8"/>
<text x="419" y="242.25" font-size="6.7" text-anchor="end" fill="#222" color="#222">100</text>
<line x1="419.8" y1="267.2" x2="421.7" y2="267.2" stroke="#555" stroke-width="0.8"/>
<text x="419" y="269.65" font-size="6.7" text-anchor="end" fill="#222" color="#222">50</text>
<text x="0" y="0" font-size="7" text-anchor="middle" fill="#1c1c1c" color="#1c1c1c" transform="translate(394.3,217.0) rotate(-90)">IL-12 serum</text>
<text x="0" y="0" font-size="7" text-anchor="middle" fill="#1c1c1c" color="#1c1c1c" transform="translate(400.5,217.0) rotate(-90)">concentration (pg/ml)</text>
<line x1="421.7" y1="267.2" x2="518.5" y2="267.2" stroke="#555" stroke-width="0.8"/>
<line x1="433.5" y1="267.2" x2="433.5" y2="269.2" stroke="#555" stroke-width="0.7"/>
<line x1="457.7" y1="267.2" x2="457.7" y2="269.2" stroke="#555" stroke-width="0.7"/>
<line x1="481" y1="267.2" x2="481" y2="269.2" stroke="#555" stroke-width="0.7"/>
<line x1="506.3" y1="267.2" x2="506.3" y2="269.2" stroke="#555" stroke-width="0.7"/>
<text x="433.4" y="277.5" font-size="7" text-anchor="middle" fill="#1c1c1c" color="#1c1c1c">w/o</text>
<text x="456.9" y="277.5" font-size="7" text-anchor="middle" fill="#1c1c1c" color="#1c1c1c">OT-1</text>
<text x="481.1" y="277.5" font-size="7" text-anchor="middle" fill="#1c1c1c" color="#1c1c1c">OT-1</text>
<text x="481.5" y="285.7" font-size="7" text-anchor="middle" fill="#1c1c1c" color="#1c1c1c">x</text>
<text x="481.1" y="295.1" font-size="7" text-anchor="middle" fill="#1c1c1c" color="#1c1c1c">CD40L<tspan font-size="4.2" dy="-2.8">-/-</tspan><tspan font-size="7" dy="2.8"></tspan></tspan></text>
<text x="508.1" y="277.5" font-size="7" text-anchor="middle" fill="#1c1c1c" color="#1c1c1c">αCD40</text>
<line x1="435.2" y1="181.8" x2="457" y2="181.8" stroke="#888" stroke-width="0.9"/>
<line x1="459.4" y1="181.8" x2="481.7" y2="181.8" stroke="#888" stroke-width="0.9"/>
<text x="446.3" y="180.4" font-size="6.6" text-anchor="middle" fill="#222" color="#222">**</text>
<text x="470.4" y="180.4" font-size="6.6" text-anchor="middle" fill="#222" color="#222">*</text>
<circle cx="430.1" cy="234.1" r="2.3" fill="#0a0a0a"/>
<circle cx="436.8" cy="232.5" r="2.3" fill="#0a0a0a"/>
<circle cx="433.9" cy="242.2" r="2.3" fill="#0a0a0a"/>
<circle cx="433.5" cy="250.4" r="2.3" fill="#0a0a0a"/>
<line x1="425.5" y1="238.6" x2="442.2" y2="238.6" stroke="#333" stroke-width="1.1"/>
<rect x="455.95" y="207.95" width="4.3" height="4.3" fill="#0a0a0a"/>
<rect x="451.95" y="219.55" width="4.3" height="4.3" fill="#0a0a0a"/>
<rect x="459.35" y="220.75" width="4.3" height="4.3" fill="#0a0a0a"/>
<rect x="455.55" y="225.25" width="4.3" height="4.3" fill="#0a0a0a"/>
<line x1="449.2" y1="222.4" x2="466.2" y2="222.4" stroke="#333" stroke-width="1.1"/>
<path d="M479,226.85 L481.5,231.35 L476.5,231.35 Z" fill="#0a0a0a"/>
<path d="M485.5,230.95 L488,235.45 L483,235.45 Z" fill="#0a0a0a"/>
<path d="M477.8,234.75 L480.3,239.25 L475.3,239.25 Z" fill="#0a0a0a"/>
<path d="M481.7,238.15 L484.2,242.65 L479.2,242.65 Z" fill="#0a0a0a"/>
<path d="M485,235.25 L487.5,239.75 L482.5,239.75 Z" fill="#0a0a0a"/>
<line x1="474.5" y1="236.5" x2="490.6" y2="236.5" stroke="#333" stroke-width="1.1"/>
<path d="M501.6,173.35 L506.6,173.35 L504.1,177.85 Z" fill="#0a0a0a"/>
<path d="M500.5,177.55 L505.5,177.55 L503,182.05 Z" fill="#0a0a0a"/>
<path d="M503.9,178.75 L508.9,178.75 L506.4,183.25 Z" fill="#0a0a0a"/>
<path d="M506.8,177.75 L511.8,177.75 L509.3,182.25 Z" fill="#0a0a0a"/>
<line x1="498.1" y1="180.1" x2="514.2" y2="180.1" stroke="#333" stroke-width="1.1"/>
<line x1="32.7" y1="321.2" x2="32.7" y2="417.2" stroke="#555" stroke-width="0.8"/>
<line x1="30.7" y1="321.2" x2="32.7" y2="321.2" stroke="#555" stroke-width="0.8"/>
<text x="30" y="323.65" font-size="6.7" text-anchor="end" fill="#222" color="#222">8000</text>
<line x1="30.7" y1="344.9" x2="32.7" y2="344.9" stroke="#555" stroke-width="0.8"/>
<text x="30" y="347.35" font-size="6.7" text-anchor="end" fill="#222" color="#222">6000</text>
<line x1="30.7" y1="368.7" x2="32.7" y2="368.7" stroke="#555" stroke-width="0.8"/>
<text x="30" y="371.15" font-size="6.7" text-anchor="end" fill="#222" color="#222">4000</text>
<line x1="30.7" y1="392.5" x2="32.7" y2="392.5" stroke="#555" stroke-width="0.8"/>
<text x="30" y="394.95" font-size="6.7" text-anchor="end" fill="#222" color="#222">2000</text>
<line x1="30.7" y1="416.4" x2="32.7" y2="416.4" stroke="#555" stroke-width="0.8"/>
<text x="30" y="418.85" font-size="6.7" text-anchor="end" fill="#222" color="#222">0</text>
<line x1="32.7" y1="417" x2="130.5" y2="417" stroke="#555" stroke-width="0.8"/>
<line x1="45.2" y1="417" x2="45.2" y2="419" stroke="#555" stroke-width="0.7"/>
<line x1="69.5" y1="417" x2="69.5" y2="419" stroke="#555" stroke-width="0.7"/>
<line x1="93.9" y1="417" x2="93.9" y2="419" stroke="#555" stroke-width="0.7"/>
<line x1="117.9" y1="417" x2="117.9" y2="419" stroke="#555" stroke-width="0.7"/>
<text x="45.6" y="427.6" font-size="7" text-anchor="middle" fill="#1c1c1c" color="#1c1c1c">w/o</text>
<text x="68.9" y="427.6" font-size="7" text-anchor="middle" fill="#1c1c1c" color="#1c1c1c">OT-1</text>
<text x="93.7" y="427.6" font-size="7" text-anchor="middle" fill="#1c1c1c" color="#1c1c1c">OT-1</text>
<text x="94.1" y="435.8" font-size="7" text-anchor="middle" fill="#1c1c1c" color="#1c1c1c">x</text>
<text x="93.7" y="445.2" font-size="7" text-anchor="middle" fill="#1c1c1c" color="#1c1c1c">CD40L<tspan font-size="4.2" dy="-2.8">-/-</tspan><tspan font-size="7" dy="2.8"></tspan></tspan></text>
<text x="119.6" y="427.6" font-size="7" text-anchor="middle" fill="#1c1c1c" color="#1c1c1c">αCD40</text>
<text x="0" y="0" font-size="6.8" text-anchor="middle" fill="#1c1c1c" color="#1c1c1c" transform="translate(7.4,368.5) rotate(-90)">MFI of CD40 on CD11c<tspan font-size="4.2" dy="-2.8">+</tspan><tspan font-size="7" dy="2.8"> MHC-II<tspan font-size="4.2" dy="-2.8">+</tspan><tspan font-size="7" dy="2.8"></tspan></tspan></text>
<line x1="45.7" y1="327.8" x2="68.6" y2="327.8" stroke="#888" stroke-width="0.9"/>
<line x1="70.8" y1="327.8" x2="93.2" y2="327.8" stroke="#888" stroke-width="0.9"/>
<text x="57" y="328" font-size="6.8" text-anchor="middle" fill="#222" color="#222">***</text>
<text x="81.2" y="328" font-size="6.8" text-anchor="middle" fill="#222" color="#222">***</text>
<circle cx="45.2" cy="374.5" r="2.3" fill="#0a0a0a"/>
<circle cx="45.2" cy="384.3" r="2.3" fill="#0a0a0a"/>
<circle cx="41.7" cy="390.6" r="2.3" fill="#0a0a0a"/>
<circle cx="45.2" cy="392.2" r="2.3" fill="#0a0a0a"/>
<circle cx="49.1" cy="391.3" r="2.3" fill="#0a0a0a"/>
<line x1="37.8" y1="390.2" x2="53.5" y2="390.2" stroke="#333" stroke-width="1.1"/>
<rect x="67.55" y="345.45" width="4.3" height="4.3" fill="#0a0a0a"/>
<rect x="63.75" y="353.75" width="4.3" height="4.3" fill="#0a0a0a"/>
<rect x="70.85" y="358.65" width="4.3" height="4.3" fill="#0a0a0a"/>
<rect x="70.85" y="363.85" width="4.3" height="4.3" fill="#0a0a0a"/>
<rect x="63.75" y="369.45" width="4.3" height="4.3" fill="#0a0a0a"/>
<line x1="61.4" y1="361" x2="77.1" y2="361" stroke="#333" stroke-width="1.1"/>
<path d="M90.1,379.45 L92.6,383.95 L87.6,383.95 Z" fill="#0a0a0a"/>
<path d="M96.8,374.95 L99.3,379.45 L94.3,379.45 Z" fill="#0a0a0a"/>
<path d="M90.1,387.25 L92.6,391.75 L87.6,391.75 Z" fill="#0a0a0a"/>
<path d="M96.8,389.05 L99.3,393.55 L94.3,393.55 Z" fill="#0a0a0a"/>
<path d="M93.9,396.25 L96.4,400.75 L91.4,400.75 Z" fill="#0a0a0a"/>
<line x1="86" y1="389.5" x2="101.7" y2="389.5" stroke="#333" stroke-width="1.1"/>
<path d="M115.4,378.25 L120.4,378.25 L117.9,382.75 Z" fill="#0a0a0a"/>
<path d="M111.6,385.45 L116.6,385.45 L114.1,389.95 Z" fill="#0a0a0a"/>
<path d="M116.1,385.65 L121.1,385.65 L118.6,390.15 Z" fill="#0a0a0a"/>
<path d="M119.7,385.45 L124.7,385.45 L122.2,389.95 Z" fill="#0a0a0a"/>
<path d="M115.4,395.15 L120.4,395.15 L117.9,399.65 Z" fill="#0a0a0a"/>
<line x1="109.6" y1="387.9" x2="126.4" y2="387.9" stroke="#333" stroke-width="1.1"/>
<line x1="174.8" y1="321.7" x2="174.8" y2="416.8" stroke="#555" stroke-width="0.8"/>
<line x1="172.8" y1="321.7" x2="174.8" y2="321.7" stroke="#555" stroke-width="0.8"/>
<text x="172.6" y="324.15" font-size="6.7" text-anchor="end" fill="#222" color="#222">4000</text>
<line x1="172.8" y1="345.5" x2="174.8" y2="345.5" stroke="#555" stroke-width="0.8"/>
<text x="172.6" y="347.95" font-size="6.7" text-anchor="end" fill="#222" color="#222">3000</text>
<line x1="172.8" y1="369.2" x2="174.8" y2="369.2" stroke="#555" stroke-width="0.8"/>
<text x="172.6" y="371.65" font-size="6.7" text-anchor="end" fill="#222" color="#222">2000</text>
<line x1="172.8" y1="393" x2="174.8" y2="393" stroke="#555" stroke-width="0.8"/>
<text x="172.6" y="395.45" font-size="6.7" text-anchor="end" fill="#222" color="#222">1000</text>
<line x1="172.8" y1="416.8" x2="174.8" y2="416.8" stroke="#555" stroke-width="0.8"/>
<text x="172.6" y="419.25" font-size="6.7" text-anchor="end" fill="#222" color="#222">0</text>
<line x1="174.8" y1="416.6" x2="272" y2="416.6" stroke="#555" stroke-width="0.8"/>
<line x1="186.6" y1="416.6" x2="186.6" y2="418.6" stroke="#555" stroke-width="0.7"/>
<line x1="210.9" y1="416.6" x2="210.9" y2="418.6" stroke="#555" stroke-width="0.7"/>
<line x1="234.1" y1="416.6" x2="234.1" y2="418.6" stroke="#555" stroke-width="0.7"/>
<line x1="259.1" y1="416.6" x2="259.1" y2="418.6" stroke="#555" stroke-width="0.7"/>
<text x="186.6" y="428" font-size="7" text-anchor="middle" fill="#1c1c1c" color="#1c1c1c">w/o</text>
<text x="208.6" y="428" font-size="7" text-anchor="middle" fill="#1c1c1c" color="#1c1c1c">OT-1</text>
<text x="233.5" y="428" font-size="7" text-anchor="middle" fill="#1c1c1c" color="#1c1c1c">OT-1</text>
<text x="233.9" y="436.2" font-size="7" text-anchor="middle" fill="#1c1c1c" color="#1c1c1c">x</text>
<text x="233.5" y="445.6" font-size="7" text-anchor="middle" fill="#1c1c1c" color="#1c1c1c">CD40L<tspan font-size="4.2" dy="-2.8">-/-</tspan><tspan font-size="7" dy="2.8"></tspan></tspan></text>
<text x="260" y="428" font-size="7" text-anchor="middle" fill="#1c1c1c" color="#1c1c1c">αCD40</text>
<text x="0" y="0" font-size="6.8" text-anchor="middle" fill="#1c1c1c" color="#1c1c1c" transform="translate(149.4,368.5) rotate(-90)">MFI of CD80 on CD11c<tspan font-size="4.2" dy="-2.8">+</tspan><tspan font-size="7" dy="2.8"> MHC-II<tspan font-size="4.2" dy="-2.8">+</tspan><tspan font-size="7" dy="2.8"></tspan></tspan></text>
<line x1="187.1" y1="328.3" x2="209.5" y2="328.3" stroke="#888" stroke-width="0.9"/>
<line x1="211.7" y1="328.3" x2="233" y2="328.3" stroke="#888" stroke-width="0.9"/>
<text x="198.7" y="328.2" font-size="6.6" text-anchor="middle" fill="#222" color="#222">**</text>
<text x="223.4" y="325.1" font-size="6.8" text-anchor="middle" fill="#333" color="#333">n.s.</text>
<circle cx="183.5" cy="378.5" r="2.3" fill="#0a0a0a"/>
<circle cx="190.2" cy="384.7" r="2.3" fill="#0a0a0a"/>
<circle cx="183.1" cy="390.6" r="2.3" fill="#0a0a0a"/>
<circle cx="186.2" cy="393.2" r="2.3" fill="#0a0a0a"/>
<circle cx="189.2" cy="392.5" r="2.3" fill="#0a0a0a"/>
<line x1="178.3" y1="390.6" x2="194.9" y2="390.6" stroke="#333" stroke-width="1.1"/>
<rect x="208.75" y="342.65" width="4.3" height="4.3" fill="#0a0a0a"/>
<rect x="211.75" y="355.65" width="4.3" height="4.3" fill="#0a0a0a"/>
<rect x="205.15" y="359.25" width="4.3" height="4.3" fill="#0a0a0a"/>
<rect x="208.75" y="360.85" width="4.3" height="4.3" fill="#0a0a0a"/>
<rect x="208.75" y="378.75" width="4.3" height="4.3" fill="#0a0a0a"/>
<line x1="205.2" y1="361.9" x2="219.4" y2="361.9" stroke="#333" stroke-width="1.1"/>
<path d="M234.1,356.25 L236.6,360.75 L231.6,360.75 Z" fill="#0a0a0a"/>
<path d="M234.1,371.45 L236.6,375.95 L231.6,375.95 Z" fill="#0a0a0a"/>
<path d="M231.3,383.55 L233.8,388.05 L228.8,388.05 Z" fill="#0a0a0a"/>
<path d="M234.6,387.65 L237.1,392.15 L232.1,392.15 Z" fill="#0a0a0a"/>
<path d="M238.4,385.95 L240.9,390.45 L235.9,390.45 Z" fill="#0a0a0a"/>
<line x1="228.2" y1="385.6" x2="243.2" y2="385.6" stroke="#333" stroke-width="1.1"/>
<path d="M256.6,352.45 L261.6,352.45 L259.1,356.95 Z" fill="#0a0a0a"/>
<path d="M253,359.65 L258,359.65 L255.5,364.15 Z" fill="#0a0a0a"/>
<path d="M260.1,364.35 L265.1,364.35 L262.6,368.85 Z" fill="#0a0a0a"/>
<path d="M253,375.75 L258,375.75 L255.5,380.25 Z" fill="#0a0a0a"/>
<path d="M260.1,375.75 L265.1,375.75 L262.6,380.25 Z" fill="#0a0a0a"/>
<line x1="252" y1="367.3" x2="267.4" y2="367.3" stroke="#333" stroke-width="1.1"/>
</svg>
</body></html>
